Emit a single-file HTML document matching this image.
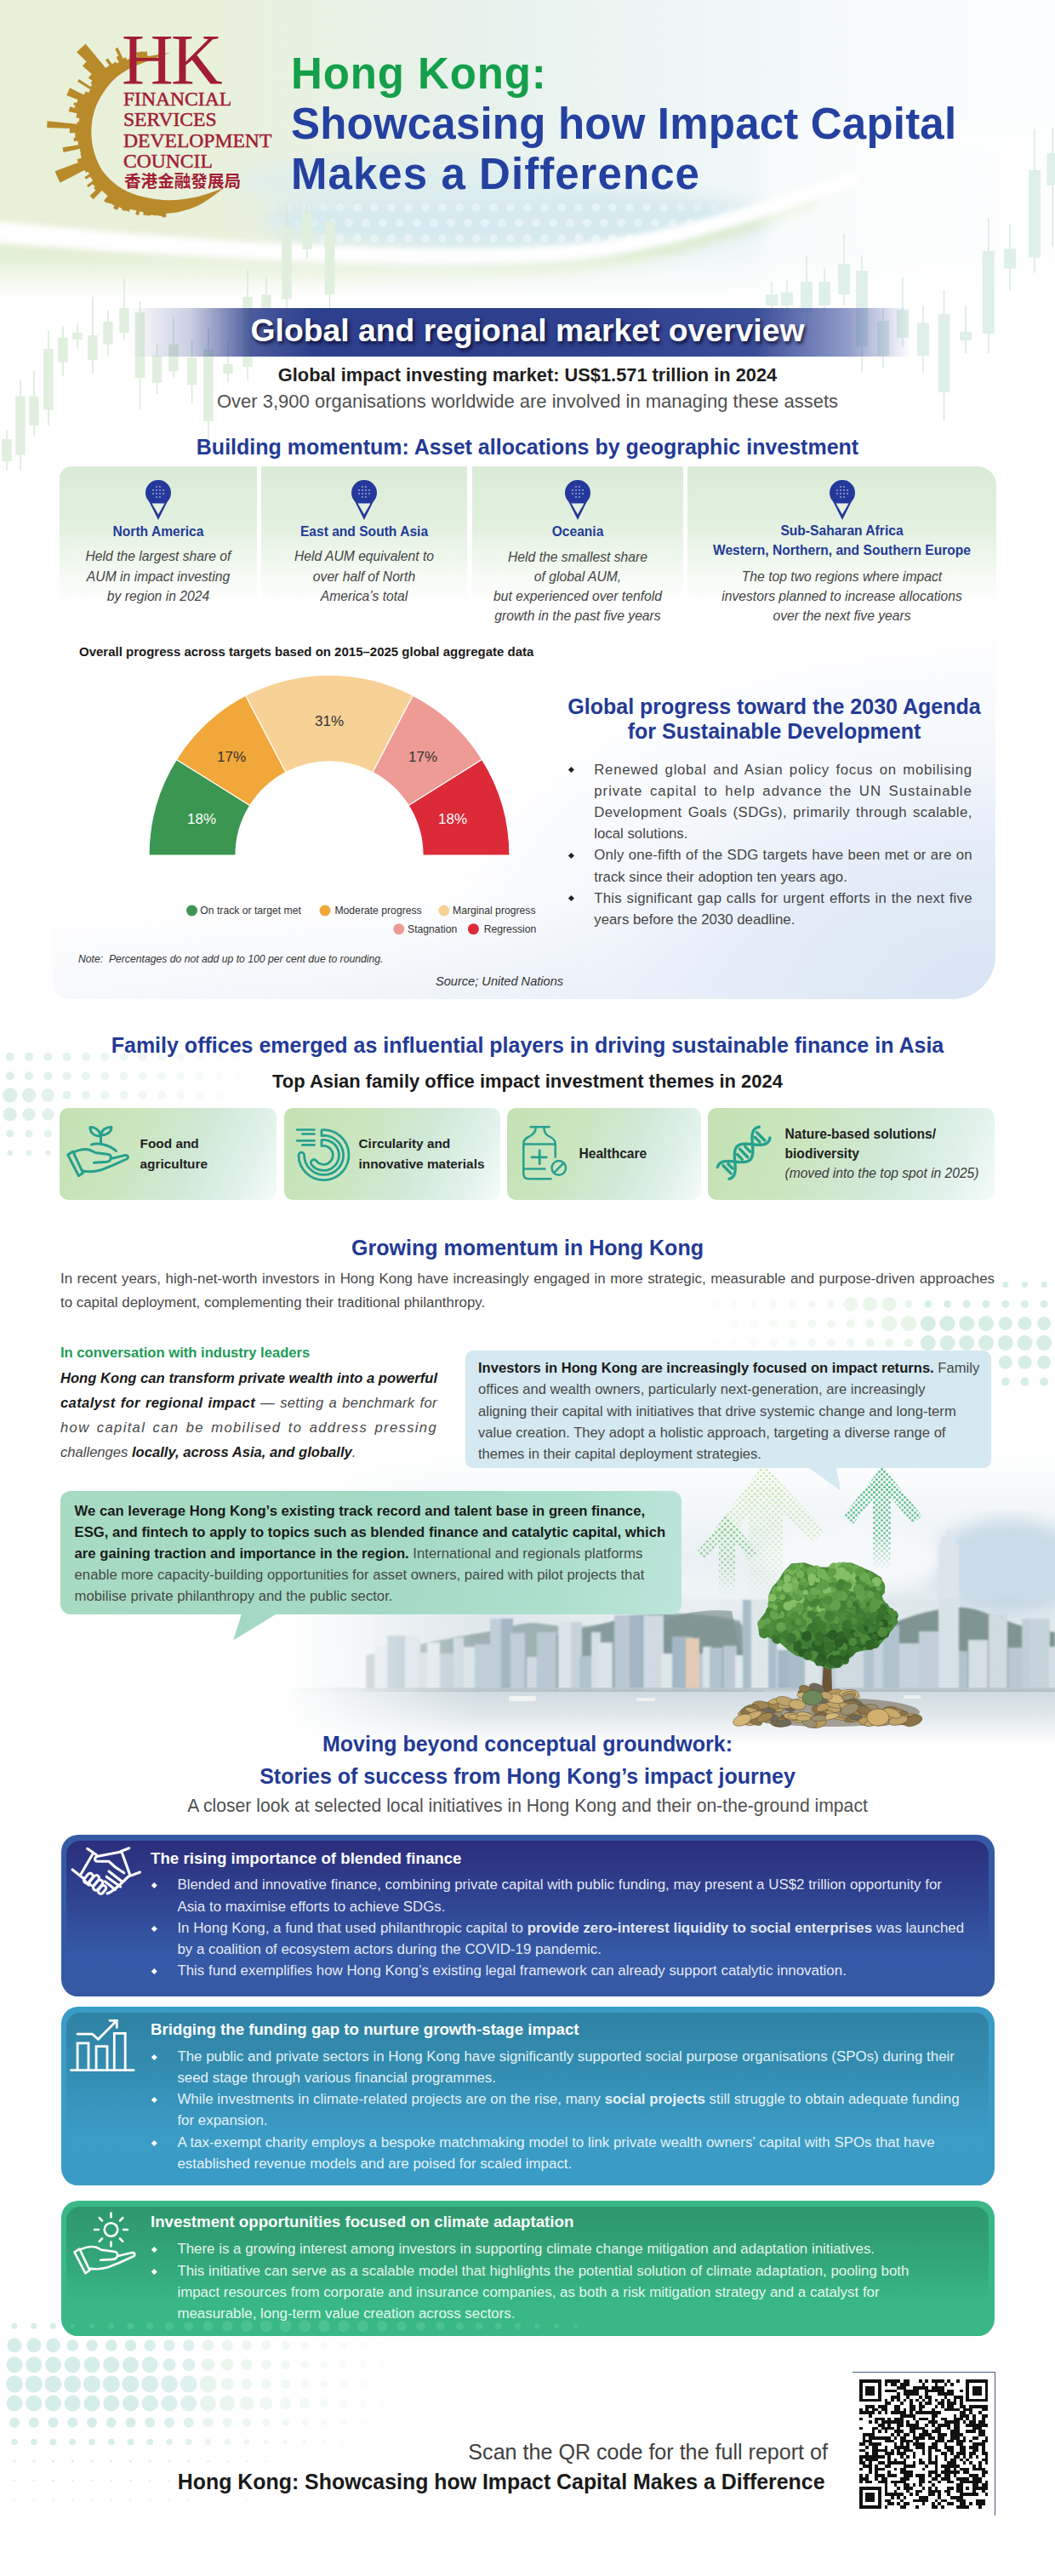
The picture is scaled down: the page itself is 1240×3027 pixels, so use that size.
<!DOCTYPE html>
<html lang="en">
<head>
<meta charset="utf-8">
<title>Hong Kong: Showcasing how Impact Capital Makes a Difference</title>
<style>
html,body{margin:0;padding:0;}
body{width:1240px;height:3027px;position:relative;overflow:hidden;background:#fff;font-family:"Liberation Sans",Arial,sans-serif;color:#222;}
.a{position:absolute;}
.c{text-align:center;white-space:nowrap;}
.nw{white-space:nowrap;}
.blue{color:#233a96;}
.b{font-weight:bold;}
.i{font-style:italic;}
/* header */
#title{left:342px;top:57px;font-size:51px;line-height:59px;font-weight:bold;color:#2441a0;letter-spacing:-0.3px;white-space:nowrap;}
#title .g{color:#14a04a;}
/* region cards */
.rc{top:548px;height:160px;background:linear-gradient(180deg,#d9ecd6 0%,#e3f1e0 45%,rgba(240,248,238,0.8) 75%,rgba(255,255,255,0) 100%);}
.rc .pin{position:absolute;top:16px;left:50%;margin-left:-16px;width:32px;height:48px;}
.rc .t{position:absolute;left:0;right:0;top:65.8px;font-size:15.6px;line-height:22.8px;font-weight:bold;color:#233a96;text-align:center;white-space:nowrap;}
.tc{top:1302px;height:107.5px;border-radius:10px;background:linear-gradient(115deg,#c3e1b3 0%,#cbe6c0 35%,#cfe9d6 60%,#e2f3ec 85%,#f4fbf8 100%);}
.card{border-radius:20px;overflow:hidden;}
.card .in{position:absolute;left:6px;top:7px;right:7px;bottom:-2px;border-radius:16px 16px 0 0;}
.ct{left:177px;font-size:18.7px;line-height:22px;font-weight:bold;color:#fff;white-space:nowrap;}
.cb{left:208.4px;font-size:16.9px;line-height:25.2px;color:rgba(255,255,255,0.9);white-space:nowrap;}
.cb .bl::before{left:-29.7px;top:11px;width:4.6px;height:4.6px;background:#fff;}
.bl{position:relative;}
.jl{display:block;text-align:justify;text-align-last:justify;}
.bl::before{content:"";position:absolute;left:-29.8px;top:10.2px;width:4.8px;height:4.8px;background:#222;transform:rotate(45deg);}
.rc .d{position:absolute;left:0;right:0;font-size:15.7px;line-height:23.4px;font-style:italic;color:#454545;text-align:center;white-space:nowrap;}
</style>
</head>
<body>

<!-- ===== HEADER BACKGROUND ===== -->
<svg class="a" style="left:0;top:0" width="1240" height="560" viewBox="0 0 1240 560">
  <defs>
    <linearGradient id="hbg" x1="0" y1="0" x2="1240" y2="0" gradientUnits="userSpaceOnUse">
      <stop offset="0" stop-color="#e8f0d7"/>
      <stop offset="0.22" stop-color="#e9f1dd"/>
      <stop offset="0.45" stop-color="#e8f2ec"/>
      <stop offset="0.65" stop-color="#eef6f6"/>
      <stop offset="0.85" stop-color="#f8fbfc"/>
      <stop offset="1" stop-color="#fcfdfe"/>
    </linearGradient>
    <linearGradient id="hfade" x1="0" y1="0" x2="0" y2="1">
      <stop offset="0" stop-color="#fff" stop-opacity="0"/>
      <stop offset="1" stop-color="#fff" stop-opacity="1"/>
    </linearGradient>
    <filter id="bl10"><feGaussianBlur stdDeviation="10"/></filter>
    <filter id="bl6"><feGaussianBlur stdDeviation="6"/></filter>
    <filter id="bl3"><feGaussianBlur stdDeviation="3"/></filter>
  </defs>
  <rect x="0" y="0" width="1240" height="352" fill="url(#hbg)"/>
  <ellipse cx="610" cy="258" rx="300" ry="36" fill="#d6eaef" filter="url(#bl10)"/>
  <ellipse cx="480" cy="215" rx="200" ry="30" fill="#dcedf0" opacity="0.7" filter="url(#bl10)"/>
  <circle cx="320" cy="244" r="5" fill="#fff" fill-opacity="0.07"/><circle cx="340" cy="244" r="5" fill="#fff" fill-opacity="0.14"/><circle cx="360" cy="244" r="5" fill="#fff" fill-opacity="0.21"/><circle cx="380" cy="244" r="5" fill="#fff" fill-opacity="0.28"/><circle cx="400" cy="244" r="5" fill="#fff" fill-opacity="0.35"/><circle cx="420" cy="244" r="5" fill="#fff" fill-opacity="0.42"/><circle cx="440" cy="244" r="5" fill="#fff" fill-opacity="0.42"/><circle cx="460" cy="244" r="5" fill="#fff" fill-opacity="0.42"/><circle cx="480" cy="244" r="5" fill="#fff" fill-opacity="0.42"/><circle cx="500" cy="244" r="5" fill="#fff" fill-opacity="0.42"/><circle cx="520" cy="244" r="5" fill="#fff" fill-opacity="0.42"/><circle cx="540" cy="244" r="5" fill="#fff" fill-opacity="0.42"/><circle cx="560" cy="244" r="5" fill="#fff" fill-opacity="0.42"/><circle cx="580" cy="244" r="5" fill="#fff" fill-opacity="0.42"/><circle cx="600" cy="244" r="5" fill="#fff" fill-opacity="0.42"/><circle cx="620" cy="244" r="5" fill="#fff" fill-opacity="0.42"/><circle cx="640" cy="244" r="5" fill="#fff" fill-opacity="0.42"/><circle cx="660" cy="244" r="5" fill="#fff" fill-opacity="0.42"/><circle cx="680" cy="244" r="5" fill="#fff" fill-opacity="0.42"/><circle cx="700" cy="244" r="5" fill="#fff" fill-opacity="0.42"/><circle cx="720" cy="244" r="5" fill="#fff" fill-opacity="0.42"/><circle cx="740" cy="244" r="5" fill="#fff" fill-opacity="0.42"/><circle cx="760" cy="244" r="5" fill="#fff" fill-opacity="0.42"/><circle cx="780" cy="244" r="5" fill="#fff" fill-opacity="0.42"/><circle cx="800" cy="244" r="5" fill="#fff" fill-opacity="0.35"/><circle cx="820" cy="244" r="5" fill="#fff" fill-opacity="0.28"/><circle cx="840" cy="244" r="5" fill="#fff" fill-opacity="0.21"/><circle cx="860" cy="244" r="5" fill="#fff" fill-opacity="0.14"/><circle cx="880" cy="244" r="5" fill="#fff" fill-opacity="0.07"/><circle cx="330" cy="262" r="5" fill="#fff" fill-opacity="0.10"/><circle cx="350" cy="262" r="5" fill="#fff" fill-opacity="0.17"/><circle cx="370" cy="262" r="5" fill="#fff" fill-opacity="0.24"/><circle cx="390" cy="262" r="5" fill="#fff" fill-opacity="0.32"/><circle cx="410" cy="262" r="5" fill="#fff" fill-opacity="0.39"/><circle cx="430" cy="262" r="5" fill="#fff" fill-opacity="0.42"/><circle cx="450" cy="262" r="5" fill="#fff" fill-opacity="0.42"/><circle cx="470" cy="262" r="5" fill="#fff" fill-opacity="0.42"/><circle cx="490" cy="262" r="5" fill="#fff" fill-opacity="0.42"/><circle cx="510" cy="262" r="5" fill="#fff" fill-opacity="0.42"/><circle cx="530" cy="262" r="5" fill="#fff" fill-opacity="0.42"/><circle cx="550" cy="262" r="5" fill="#fff" fill-opacity="0.42"/><circle cx="570" cy="262" r="5" fill="#fff" fill-opacity="0.42"/><circle cx="590" cy="262" r="5" fill="#fff" fill-opacity="0.42"/><circle cx="610" cy="262" r="5" fill="#fff" fill-opacity="0.42"/><circle cx="630" cy="262" r="5" fill="#fff" fill-opacity="0.42"/><circle cx="650" cy="262" r="5" fill="#fff" fill-opacity="0.42"/><circle cx="670" cy="262" r="5" fill="#fff" fill-opacity="0.42"/><circle cx="690" cy="262" r="5" fill="#fff" fill-opacity="0.42"/><circle cx="710" cy="262" r="5" fill="#fff" fill-opacity="0.42"/><circle cx="730" cy="262" r="5" fill="#fff" fill-opacity="0.42"/><circle cx="750" cy="262" r="5" fill="#fff" fill-opacity="0.42"/><circle cx="770" cy="262" r="5" fill="#fff" fill-opacity="0.42"/><circle cx="790" cy="262" r="5" fill="#fff" fill-opacity="0.39"/><circle cx="810" cy="262" r="5" fill="#fff" fill-opacity="0.32"/><circle cx="830" cy="262" r="5" fill="#fff" fill-opacity="0.24"/><circle cx="850" cy="262" r="5" fill="#fff" fill-opacity="0.17"/><circle cx="870" cy="262" r="5" fill="#fff" fill-opacity="0.10"/><circle cx="320" cy="280" r="5" fill="#fff" fill-opacity="0.07"/><circle cx="340" cy="280" r="5" fill="#fff" fill-opacity="0.14"/><circle cx="360" cy="280" r="5" fill="#fff" fill-opacity="0.21"/><circle cx="380" cy="280" r="5" fill="#fff" fill-opacity="0.28"/><circle cx="400" cy="280" r="5" fill="#fff" fill-opacity="0.35"/><circle cx="420" cy="280" r="5" fill="#fff" fill-opacity="0.42"/><circle cx="440" cy="280" r="5" fill="#fff" fill-opacity="0.42"/><circle cx="460" cy="280" r="5" fill="#fff" fill-opacity="0.42"/><circle cx="480" cy="280" r="5" fill="#fff" fill-opacity="0.42"/><circle cx="500" cy="280" r="5" fill="#fff" fill-opacity="0.42"/><circle cx="520" cy="280" r="5" fill="#fff" fill-opacity="0.42"/><circle cx="540" cy="280" r="5" fill="#fff" fill-opacity="0.42"/><circle cx="560" cy="280" r="5" fill="#fff" fill-opacity="0.42"/><circle cx="580" cy="280" r="5" fill="#fff" fill-opacity="0.42"/><circle cx="600" cy="280" r="5" fill="#fff" fill-opacity="0.42"/><circle cx="620" cy="280" r="5" fill="#fff" fill-opacity="0.42"/><circle cx="640" cy="280" r="5" fill="#fff" fill-opacity="0.42"/><circle cx="660" cy="280" r="5" fill="#fff" fill-opacity="0.42"/><circle cx="680" cy="280" r="5" fill="#fff" fill-opacity="0.42"/><circle cx="700" cy="280" r="5" fill="#fff" fill-opacity="0.42"/><circle cx="720" cy="280" r="5" fill="#fff" fill-opacity="0.42"/><circle cx="740" cy="280" r="5" fill="#fff" fill-opacity="0.42"/><circle cx="760" cy="280" r="5" fill="#fff" fill-opacity="0.42"/><circle cx="780" cy="280" r="5" fill="#fff" fill-opacity="0.42"/><circle cx="800" cy="280" r="5" fill="#fff" fill-opacity="0.35"/><circle cx="820" cy="280" r="5" fill="#fff" fill-opacity="0.28"/><circle cx="840" cy="280" r="5" fill="#fff" fill-opacity="0.21"/><circle cx="860" cy="280" r="5" fill="#fff" fill-opacity="0.14"/><circle cx="880" cy="280" r="5" fill="#fff" fill-opacity="0.07"/>
  <path d="M-40 286 C 200 310, 450 320, 640 308 C 760 299, 860 262, 960 228 L 960 244 C 860 279, 760 316, 640 326 C 450 336, 200 334, -40 326 Z" fill="#dfeed0" filter="url(#bl6)"/>
  <path d="M-40 256 C 200 282, 450 298, 640 290 C 760 284, 880 243, 1010 200 L 1010 216 C 880 262, 760 302, 640 307 C 450 315, 200 302, -40 282 Z" fill="#fff" filter="url(#bl3)"/>
  <rect x="0" y="296" width="1240" height="56" fill="url(#hfade)"/>
  <rect x="0" y="350" width="1240" height="210" fill="#fff"/>
  <rect x="900" y="150" width="340" height="200" fill="#fff" opacity="0.5" filter="url(#bl10)"/>
</svg>

<!-- DECO -->
<svg class="a" style="left:0;top:0" width="1240" height="560" viewBox="0 0 1240 560"><rect x="7.3" y="505" width="1.4" height="48.0" fill="#d6e9d4"/><rect x="2.2" y="516" width="11.5" height="26.0" fill="#e1f0de"/><rect x="23.3" y="447" width="1.4" height="106.0" fill="#d6e9d4"/><rect x="18.2" y="465.6" width="11.5" height="69.0" fill="#e1f0de"/><rect x="39.3" y="436" width="1.4" height="77.0" fill="#d6e9d4"/><rect x="34.2" y="465.6" width="11.5" height="34.4" fill="#e1f0de"/><rect x="56.3" y="388.6" width="1.4" height="111.4" fill="#d6e9d4"/><rect x="51.2" y="410" width="11.5" height="71.5" fill="#e1f0de"/><rect x="73.3" y="383" width="1.4" height="58.7" fill="#d6e9d4"/><rect x="68.2" y="396.6" width="11.5" height="29.2" fill="#e1f0de"/><rect x="90.3" y="380.7" width="1.4" height="29.3" fill="#d6e9d4"/><rect x="85.2" y="391" width="11.5" height="8.0" fill="#e1f0de"/><rect x="108.3" y="348.8" width="1.4" height="90.2" fill="#d6e9d4"/><rect x="103.2" y="394" width="11.5" height="29.0" fill="#e1f0de"/><rect x="126.3" y="364.7" width="1.4" height="53.1" fill="#d6e9d4"/><rect x="121.2" y="378" width="11.5" height="26.5" fill="#e1f0de"/><rect x="145.3" y="327.6" width="1.4" height="71.4" fill="#d6e9d4"/><rect x="140.2" y="362" width="11.5" height="29.0" fill="#e1f0de"/><rect x="163.8" y="354" width="1.4" height="127.5" fill="#d6e9d4"/><rect x="158.8" y="367" width="11.5" height="77.0" fill="#e1f0de"/><rect x="184.0" y="404.5" width="1.4" height="58.5" fill="#d6e9d4"/><rect x="178.9" y="417.8" width="11.5" height="31.9" fill="#e1f0de"/><rect x="203.3" y="372.7" width="1.4" height="71.3" fill="#d6e9d4"/><rect x="198.2" y="404.5" width="11.5" height="31.9" fill="#e1f0de"/><rect x="224.9" y="399" width="1.4" height="74.5" fill="#d6e9d4"/><rect x="219.8" y="420.5" width="11.5" height="31.8" fill="#e1f0de"/><rect x="244.3" y="386" width="1.4" height="130.0" fill="#d6e9d4"/><rect x="239.2" y="410" width="11.5" height="84.8" fill="#e1f0de"/><rect x="267.3" y="402" width="1.4" height="47.7" fill="#d6e9d4"/><rect x="262.2" y="428" width="11.5" height="11.0" fill="#e1f0de"/><rect x="290.3" y="317" width="1.4" height="130.0" fill="#d6e9d4"/><rect x="285.2" y="348.8" width="11.5" height="82.2" fill="#e1f0de"/><rect x="312.3" y="325" width="1.4" height="45.0" fill="#d6e9d4"/><rect x="307.2" y="346" width="11.5" height="18.7" fill="#e1f0de"/><rect x="336.3" y="240" width="1.4" height="122.0" fill="#d6e9d4"/><rect x="331.2" y="266.5" width="11.5" height="85.0" fill="#e1f0de"/><rect x="360.3" y="240" width="1.4" height="63.7" fill="#d6e9d4"/><rect x="355.2" y="250.6" width="11.5" height="42.4" fill="#e1f0de"/><rect x="386.8" y="250.6" width="1.4" height="111.4" fill="#d6e9d4"/><rect x="381.8" y="261" width="11.5" height="85.0" fill="#e1f0de"/><rect x="906.3" y="331" width="1.4" height="36.0" fill="#d3e8e2"/><rect x="900.0" y="346" width="14" height="13.0" fill="#dff0ea"/><rect x="924.3" y="330" width="1.4" height="40.0" fill="#d3e8e2"/><rect x="918.0" y="343.6" width="14" height="15.4" fill="#dff0ea"/><rect x="947.3" y="300" width="1.4" height="87.0" fill="#d3e8e2"/><rect x="941.0" y="331" width="14" height="36.0" fill="#dff0ea"/><rect x="968.3" y="315" width="1.4" height="52.0" fill="#d3e8e2"/><rect x="962.0" y="331" width="14" height="28.0" fill="#dff0ea"/><rect x="991.3" y="274.5" width="1.4" height="84.5" fill="#d3e8e2"/><rect x="985.0" y="310" width="14" height="36.0" fill="#dff0ea"/><rect x="1012.3" y="300" width="1.4" height="138.0" fill="#d3e8e2"/><rect x="1006.0" y="318" width="14" height="89.6" fill="#dff0ea"/><rect x="1037.3" y="361.5" width="1.4" height="71.5" fill="#d3e8e2"/><rect x="1031.0" y="377" width="14" height="41.0" fill="#dff0ea"/><rect x="1060.3" y="325.7" width="1.4" height="81.9" fill="#d3e8e2"/><rect x="1054.0" y="364" width="14" height="33.0" fill="#dff0ea"/><rect x="1084.3" y="359" width="1.4" height="79.0" fill="#d3e8e2"/><rect x="1078.0" y="379.4" width="14" height="38.6" fill="#dff0ea"/><rect x="1108.8" y="341" width="1.4" height="153.6" fill="#d3e8e2"/><rect x="1102.5" y="369" width="14" height="92.0" fill="#dff0ea"/><rect x="1134.3" y="359" width="1.4" height="56.0" fill="#d3e8e2"/><rect x="1128.0" y="389.7" width="14" height="10.3" fill="#dff0ea"/><rect x="1161.0" y="256.6" width="1.4" height="158.4" fill="#d3e8e2"/><rect x="1154.7" y="295" width="14" height="97.0" fill="#dff0ea"/><rect x="1186.3" y="264" width="1.4" height="77.0" fill="#d3e8e2"/><rect x="1180.0" y="292.4" width="14" height="23.1" fill="#dff0ea"/><rect x="1215.3" y="151.7" width="1.4" height="168.9" fill="#d3e8e2"/><rect x="1209.0" y="200" width="14" height="102.7" fill="#dff0ea"/><rect x="1236.7" y="150" width="1.4" height="140.0" fill="#d3e8e2"/><rect x="1230.4" y="180" width="14" height="38.0" fill="#dff0ea"/></svg>
<svg class="a" style="left:0;top:0" width="1240" height="3027" viewBox="0 0 1240 3027"><circle cx="11.7" cy="1241.7" r="5.0" fill="#d8ece6" fill-opacity="0.85"/><circle cx="34.0" cy="1241.7" r="5.0" fill="#d8ece6" fill-opacity="0.78"/><circle cx="56.3" cy="1241.7" r="5.0" fill="#d8ece6" fill-opacity="0.72"/><circle cx="78.6" cy="1241.7" r="5.0" fill="#d8ece6" fill-opacity="0.66"/><circle cx="100.9" cy="1241.7" r="5.0" fill="#d8ece6" fill-opacity="0.59"/><circle cx="123.2" cy="1241.7" r="5.0" fill="#d8ece6" fill-opacity="0.52"/><circle cx="145.5" cy="1241.7" r="5.0" fill="#d8ece6" fill-opacity="0.46"/><circle cx="167.8" cy="1241.7" r="5.0" fill="#d8ece6" fill-opacity="0.39"/><circle cx="190.1" cy="1241.7" r="5.0" fill="#d8ece6" fill-opacity="0.33"/><circle cx="212.4" cy="1241.7" r="5.0" fill="#d8ece6" fill-opacity="0.27"/><circle cx="234.7" cy="1241.7" r="5.0" fill="#d8ece6" fill-opacity="0.20"/><circle cx="257.0" cy="1241.7" r="5.0" fill="#d8ece6" fill-opacity="0.13"/><circle cx="279.3" cy="1241.7" r="5.0" fill="#d8ece6" fill-opacity="0.07"/><circle cx="11.7" cy="1264.3" r="5.0" fill="#d8ece6" fill-opacity="0.85"/><circle cx="34.0" cy="1264.3" r="5.0" fill="#d8ece6" fill-opacity="0.78"/><circle cx="56.3" cy="1264.3" r="5.0" fill="#d8ece6" fill-opacity="0.72"/><circle cx="78.6" cy="1264.3" r="5.0" fill="#d8ece6" fill-opacity="0.66"/><circle cx="100.9" cy="1264.3" r="5.0" fill="#d8ece6" fill-opacity="0.59"/><circle cx="123.2" cy="1264.3" r="5.0" fill="#d8ece6" fill-opacity="0.52"/><circle cx="145.5" cy="1264.3" r="5.0" fill="#d8ece6" fill-opacity="0.46"/><circle cx="167.8" cy="1264.3" r="5.0" fill="#d8ece6" fill-opacity="0.39"/><circle cx="190.1" cy="1264.3" r="5.0" fill="#d8ece6" fill-opacity="0.33"/><circle cx="212.4" cy="1264.3" r="5.0" fill="#d8ece6" fill-opacity="0.27"/><circle cx="234.7" cy="1264.3" r="5.0" fill="#d8ece6" fill-opacity="0.20"/><circle cx="257.0" cy="1264.3" r="5.0" fill="#d8ece6" fill-opacity="0.13"/><circle cx="279.3" cy="1264.3" r="5.0" fill="#d8ece6" fill-opacity="0.07"/><circle cx="11.7" cy="1286.9" r="8.7" fill="#d8ece6" fill-opacity="0.85"/><circle cx="34.0" cy="1286.9" r="8.3" fill="#d8ece6" fill-opacity="0.78"/><circle cx="56.3" cy="1286.9" r="7.8" fill="#d8ece6" fill-opacity="0.72"/><circle cx="78.6" cy="1286.9" r="5.0" fill="#d8ece6" fill-opacity="0.66"/><circle cx="100.9" cy="1286.9" r="5.0" fill="#d8ece6" fill-opacity="0.59"/><circle cx="123.2" cy="1286.9" r="5.0" fill="#d8ece6" fill-opacity="0.52"/><circle cx="145.5" cy="1286.9" r="5.0" fill="#d8ece6" fill-opacity="0.46"/><circle cx="167.8" cy="1286.9" r="5.0" fill="#d8ece6" fill-opacity="0.39"/><circle cx="190.1" cy="1286.9" r="5.0" fill="#d8ece6" fill-opacity="0.33"/><circle cx="212.4" cy="1286.9" r="4.8" fill="#d8ece6" fill-opacity="0.27"/><circle cx="234.7" cy="1286.9" r="4.3" fill="#d8ece6" fill-opacity="0.20"/><circle cx="257.0" cy="1286.9" r="3.9" fill="#d8ece6" fill-opacity="0.13"/><circle cx="279.3" cy="1286.9" r="3.5" fill="#d8ece6" fill-opacity="0.07"/><circle cx="11.7" cy="1309.5" r="8.0" fill="#d8ece6" fill-opacity="0.85"/><circle cx="34.0" cy="1309.5" r="7.6" fill="#d8ece6" fill-opacity="0.78"/><circle cx="56.3" cy="1309.5" r="7.2" fill="#d8ece6" fill-opacity="0.72"/><circle cx="78.6" cy="1309.5" r="5.0" fill="#d8ece6" fill-opacity="0.66"/><circle cx="100.9" cy="1309.5" r="5.0" fill="#d8ece6" fill-opacity="0.59"/><circle cx="123.2" cy="1309.5" r="5.0" fill="#d8ece6" fill-opacity="0.52"/><circle cx="145.5" cy="1309.5" r="5.0" fill="#d8ece6" fill-opacity="0.46"/><circle cx="167.8" cy="1309.5" r="5.0" fill="#d8ece6" fill-opacity="0.39"/><circle cx="190.1" cy="1309.5" r="4.8" fill="#d8ece6" fill-opacity="0.33"/><circle cx="212.4" cy="1309.5" r="4.4" fill="#d8ece6" fill-opacity="0.27"/><circle cx="234.7" cy="1309.5" r="4.0" fill="#d8ece6" fill-opacity="0.20"/><circle cx="257.0" cy="1309.5" r="3.6" fill="#d8ece6" fill-opacity="0.13"/><circle cx="279.3" cy="1309.5" r="3.2" fill="#d8ece6" fill-opacity="0.07"/><circle cx="11.7" cy="1332.1" r="4.5" fill="#d8ece6" fill-opacity="0.85"/><circle cx="34.0" cy="1332.1" r="4.5" fill="#d8ece6" fill-opacity="0.78"/><circle cx="56.3" cy="1332.1" r="4.5" fill="#d8ece6" fill-opacity="0.72"/><circle cx="78.6" cy="1332.1" r="4.5" fill="#d8ece6" fill-opacity="0.66"/><circle cx="100.9" cy="1332.1" r="4.5" fill="#d8ece6" fill-opacity="0.59"/><circle cx="123.2" cy="1332.1" r="4.5" fill="#d8ece6" fill-opacity="0.52"/><circle cx="145.5" cy="1332.1" r="4.5" fill="#d8ece6" fill-opacity="0.46"/><circle cx="167.8" cy="1332.1" r="4.5" fill="#d8ece6" fill-opacity="0.39"/><circle cx="190.1" cy="1332.1" r="4.5" fill="#d8ece6" fill-opacity="0.33"/><circle cx="212.4" cy="1332.1" r="4.5" fill="#d8ece6" fill-opacity="0.27"/><circle cx="234.7" cy="1332.1" r="4.5" fill="#d8ece6" fill-opacity="0.20"/><circle cx="257.0" cy="1332.1" r="4.5" fill="#d8ece6" fill-opacity="0.13"/><circle cx="279.3" cy="1332.1" r="4.5" fill="#d8ece6" fill-opacity="0.07"/><circle cx="11.7" cy="1354.7" r="3.2" fill="#d8ece6" fill-opacity="0.85"/><circle cx="34.0" cy="1354.7" r="3.2" fill="#d8ece6" fill-opacity="0.78"/><circle cx="56.3" cy="1354.7" r="3.2" fill="#d8ece6" fill-opacity="0.72"/><circle cx="78.6" cy="1354.7" r="3.2" fill="#d8ece6" fill-opacity="0.66"/><circle cx="100.9" cy="1354.7" r="3.2" fill="#d8ece6" fill-opacity="0.59"/><circle cx="123.2" cy="1354.7" r="3.2" fill="#d8ece6" fill-opacity="0.52"/><circle cx="145.5" cy="1354.7" r="3.2" fill="#d8ece6" fill-opacity="0.46"/><circle cx="167.8" cy="1354.7" r="3.2" fill="#d8ece6" fill-opacity="0.39"/><circle cx="190.1" cy="1354.7" r="3.2" fill="#d8ece6" fill-opacity="0.33"/><circle cx="212.4" cy="1354.7" r="3.2" fill="#d8ece6" fill-opacity="0.27"/><circle cx="234.7" cy="1354.7" r="3.2" fill="#d8ece6" fill-opacity="0.20"/><circle cx="257.0" cy="1354.7" r="3.2" fill="#d8ece6" fill-opacity="0.13"/><circle cx="279.3" cy="1354.7" r="3.2" fill="#d8ece6" fill-opacity="0.07"/><circle cx="1181.8" cy="1509.6" r="3.5" fill="#d5ede3" fill-opacity="0.95"/><circle cx="1204.5" cy="1509.6" r="3.5" fill="#d5ede3" fill-opacity="0.95"/><circle cx="1227.2" cy="1509.6" r="3.5" fill="#d5ede3" fill-opacity="0.95"/><circle cx="840.5" cy="1532.4" r="4.5" fill="#e2f2e2" fill-opacity="0.10"/><circle cx="863.2" cy="1532.4" r="4.5" fill="#e2f2e2" fill-opacity="0.15"/><circle cx="886.0" cy="1532.4" r="4.5" fill="#e2f2e2" fill-opacity="0.22"/><circle cx="908.8" cy="1532.4" r="4.5" fill="#e2f2e2" fill-opacity="0.30"/><circle cx="931.5" cy="1532.4" r="4.5" fill="#e2f2e2" fill-opacity="0.38"/><circle cx="954.2" cy="1532.4" r="4.5" fill="#e2f2e2" fill-opacity="0.45"/><circle cx="977.0" cy="1532.4" r="4.5" fill="#e2f2e2" fill-opacity="0.53"/><circle cx="999.8" cy="1532.4" r="8.5" fill="#e2f2e2" fill-opacity="0.61"/><circle cx="1022.5" cy="1532.4" r="8.5" fill="#e2f2e2" fill-opacity="0.69"/><circle cx="1045.2" cy="1532.4" r="8.5" fill="#e2f2e2" fill-opacity="0.76"/><circle cx="1068.0" cy="1532.4" r="4.5" fill="#e2f2e2" fill-opacity="0.84"/><circle cx="1090.8" cy="1532.4" r="4.5" fill="#d5ede3" fill-opacity="0.92"/><circle cx="1113.5" cy="1532.4" r="4.5" fill="#d5ede3" fill-opacity="0.95"/><circle cx="1136.2" cy="1532.4" r="4.5" fill="#d5ede3" fill-opacity="0.95"/><circle cx="1159.0" cy="1532.4" r="4.5" fill="#d5ede3" fill-opacity="0.95"/><circle cx="1181.8" cy="1532.4" r="4.5" fill="#d5ede3" fill-opacity="0.95"/><circle cx="1204.5" cy="1532.4" r="4.5" fill="#d5ede3" fill-opacity="0.95"/><circle cx="1227.2" cy="1532.4" r="4.5" fill="#d5ede3" fill-opacity="0.95"/><circle cx="840.5" cy="1555.2" r="5.0" fill="#e2f2e2" fill-opacity="0.10"/><circle cx="863.2" cy="1555.2" r="5.0" fill="#e2f2e2" fill-opacity="0.15"/><circle cx="886.0" cy="1555.2" r="5.0" fill="#e2f2e2" fill-opacity="0.22"/><circle cx="908.8" cy="1555.2" r="5.0" fill="#e2f2e2" fill-opacity="0.30"/><circle cx="931.5" cy="1555.2" r="5.0" fill="#e2f2e2" fill-opacity="0.38"/><circle cx="954.2" cy="1555.2" r="5.0" fill="#e2f2e2" fill-opacity="0.45"/><circle cx="977.0" cy="1555.2" r="5.0" fill="#e2f2e2" fill-opacity="0.53"/><circle cx="999.8" cy="1555.2" r="5.0" fill="#e2f2e2" fill-opacity="0.61"/><circle cx="1022.5" cy="1555.2" r="5.0" fill="#e2f2e2" fill-opacity="0.69"/><circle cx="1045.2" cy="1555.2" r="9.0" fill="#e2f2e2" fill-opacity="0.76"/><circle cx="1068.0" cy="1555.2" r="9.0" fill="#e2f2e2" fill-opacity="0.84"/><circle cx="1090.8" cy="1555.2" r="9.0" fill="#d5ede3" fill-opacity="0.92"/><circle cx="1113.5" cy="1555.2" r="9.0" fill="#d5ede3" fill-opacity="0.95"/><circle cx="1136.2" cy="1555.2" r="9.0" fill="#d5ede3" fill-opacity="0.95"/><circle cx="1159.0" cy="1555.2" r="9.0" fill="#d5ede3" fill-opacity="0.95"/><circle cx="1181.8" cy="1555.2" r="8.0" fill="#d5ede3" fill-opacity="0.95"/><circle cx="1204.5" cy="1555.2" r="8.0" fill="#d5ede3" fill-opacity="0.95"/><circle cx="1227.2" cy="1555.2" r="8.0" fill="#d5ede3" fill-opacity="0.95"/><circle cx="840.5" cy="1578.0" r="5.0" fill="#e2f2e2" fill-opacity="0.10"/><circle cx="863.2" cy="1578.0" r="5.0" fill="#e2f2e2" fill-opacity="0.15"/><circle cx="886.0" cy="1578.0" r="5.0" fill="#e2f2e2" fill-opacity="0.22"/><circle cx="908.8" cy="1578.0" r="5.0" fill="#e2f2e2" fill-opacity="0.30"/><circle cx="931.5" cy="1578.0" r="5.0" fill="#e2f2e2" fill-opacity="0.38"/><circle cx="954.2" cy="1578.0" r="5.0" fill="#e2f2e2" fill-opacity="0.45"/><circle cx="977.0" cy="1578.0" r="5.0" fill="#e2f2e2" fill-opacity="0.53"/><circle cx="999.8" cy="1578.0" r="5.0" fill="#e2f2e2" fill-opacity="0.61"/><circle cx="1022.5" cy="1578.0" r="5.0" fill="#e2f2e2" fill-opacity="0.69"/><circle cx="1045.2" cy="1578.0" r="5.0" fill="#e2f2e2" fill-opacity="0.76"/><circle cx="1068.0" cy="1578.0" r="5.0" fill="#e2f2e2" fill-opacity="0.84"/><circle cx="1090.8" cy="1578.0" r="9.0" fill="#d5ede3" fill-opacity="0.92"/><circle cx="1113.5" cy="1578.0" r="9.0" fill="#d5ede3" fill-opacity="0.95"/><circle cx="1136.2" cy="1578.0" r="9.0" fill="#d5ede3" fill-opacity="0.95"/><circle cx="1159.0" cy="1578.0" r="9.0" fill="#d5ede3" fill-opacity="0.95"/><circle cx="1181.8" cy="1578.0" r="9.0" fill="#d5ede3" fill-opacity="0.95"/><circle cx="1204.5" cy="1578.0" r="9.0" fill="#d5ede3" fill-opacity="0.95"/><circle cx="1227.2" cy="1578.0" r="9.0" fill="#d5ede3" fill-opacity="0.95"/><circle cx="1181.8" cy="1600.8" r="8.0" fill="#d5ede3" fill-opacity="0.95"/><circle cx="1204.5" cy="1600.8" r="8.0" fill="#d5ede3" fill-opacity="0.95"/><circle cx="1227.2" cy="1600.8" r="8.0" fill="#d5ede3" fill-opacity="0.95"/><circle cx="1181.8" cy="1623.6" r="5.0" fill="#d5ede3" fill-opacity="0.95"/><circle cx="1204.5" cy="1623.6" r="5.0" fill="#d5ede3" fill-opacity="0.95"/><circle cx="1227.2" cy="1623.6" r="5.0" fill="#d5ede3" fill-opacity="0.95"/><circle cx="17.0" cy="2733.3" r="3.5" fill="#d6eeea" fill-opacity="1.00"/><circle cx="39.8" cy="2733.3" r="3.5" fill="#d6eeea" fill-opacity="1.00"/><circle cx="62.5" cy="2733.3" r="3.5" fill="#d6eeea" fill-opacity="1.00"/><circle cx="85.2" cy="2733.3" r="3.5" fill="#d6eeea" fill-opacity="1.00"/><circle cx="108.0" cy="2733.3" r="3.5" fill="#d6eeea" fill-opacity="1.00"/><circle cx="130.8" cy="2733.3" r="3.5" fill="#d6eeea" fill-opacity="1.00"/><circle cx="153.5" cy="2733.3" r="3.5" fill="#d6eeea" fill-opacity="1.00"/><circle cx="176.2" cy="2733.3" r="3.5" fill="#d6eeea" fill-opacity="0.95"/><circle cx="199.0" cy="2733.3" r="3.5" fill="#d6eeea" fill-opacity="0.88"/><circle cx="221.8" cy="2733.3" r="3.5" fill="#d6eeea" fill-opacity="0.81"/><circle cx="244.5" cy="2733.3" r="3.5" fill="#e0f1e6" fill-opacity="0.74"/><circle cx="267.2" cy="2733.3" r="3.3" fill="#e0f1e6" fill-opacity="0.66"/><circle cx="290.0" cy="2733.3" r="3.0" fill="#e0f1e6" fill-opacity="0.59"/><circle cx="312.8" cy="2733.3" r="2.8" fill="#e0f1e6" fill-opacity="0.52"/><circle cx="335.5" cy="2733.3" r="2.5" fill="#e0f1e6" fill-opacity="0.45"/><circle cx="358.2" cy="2733.3" r="2.2" fill="#e0f1e6" fill-opacity="0.38"/><circle cx="381.0" cy="2733.3" r="2.0" fill="#e0f1e6" fill-opacity="0.31"/><circle cx="403.8" cy="2733.3" r="1.9" fill="#e0f1e6" fill-opacity="0.24"/><circle cx="426.5" cy="2733.3" r="1.9" fill="#e0f1e6" fill-opacity="0.17"/><circle cx="449.2" cy="2733.3" r="1.9" fill="#e0f1e6" fill-opacity="0.10"/><circle cx="17.0" cy="2756.0" r="8.5" fill="#d6eeea" fill-opacity="1.00"/><circle cx="39.8" cy="2756.0" r="8.5" fill="#d6eeea" fill-opacity="1.00"/><circle cx="62.5" cy="2756.0" r="8.5" fill="#d6eeea" fill-opacity="1.00"/><circle cx="85.2" cy="2756.0" r="6.8" fill="#d6eeea" fill-opacity="1.00"/><circle cx="108.0" cy="2756.0" r="6.8" fill="#d6eeea" fill-opacity="1.00"/><circle cx="130.8" cy="2756.0" r="6.8" fill="#d6eeea" fill-opacity="1.00"/><circle cx="153.5" cy="2756.0" r="6.8" fill="#d6eeea" fill-opacity="1.00"/><circle cx="176.2" cy="2756.0" r="6.8" fill="#d6eeea" fill-opacity="0.95"/><circle cx="199.0" cy="2756.0" r="6.8" fill="#d6eeea" fill-opacity="0.88"/><circle cx="221.8" cy="2756.0" r="6.8" fill="#d6eeea" fill-opacity="0.81"/><circle cx="244.5" cy="2756.0" r="6.8" fill="#e0f1e6" fill-opacity="0.74"/><circle cx="267.2" cy="2756.0" r="6.4" fill="#e0f1e6" fill-opacity="0.66"/><circle cx="290.0" cy="2756.0" r="5.9" fill="#e0f1e6" fill-opacity="0.59"/><circle cx="312.8" cy="2756.0" r="5.4" fill="#e0f1e6" fill-opacity="0.52"/><circle cx="335.5" cy="2756.0" r="4.9" fill="#e0f1e6" fill-opacity="0.45"/><circle cx="358.2" cy="2756.0" r="4.3" fill="#e0f1e6" fill-opacity="0.38"/><circle cx="381.0" cy="2756.0" r="3.8" fill="#e0f1e6" fill-opacity="0.31"/><circle cx="403.8" cy="2756.0" r="3.7" fill="#e0f1e6" fill-opacity="0.24"/><circle cx="426.5" cy="2756.0" r="3.7" fill="#e0f1e6" fill-opacity="0.17"/><circle cx="449.2" cy="2756.0" r="3.7" fill="#e0f1e6" fill-opacity="0.10"/><circle cx="17.0" cy="2778.7" r="9.5" fill="#d6eeea" fill-opacity="1.00"/><circle cx="39.8" cy="2778.7" r="9.5" fill="#d6eeea" fill-opacity="1.00"/><circle cx="62.5" cy="2778.7" r="9.5" fill="#d6eeea" fill-opacity="1.00"/><circle cx="85.2" cy="2778.7" r="9.5" fill="#d6eeea" fill-opacity="1.00"/><circle cx="108.0" cy="2778.7" r="9.5" fill="#d6eeea" fill-opacity="1.00"/><circle cx="130.8" cy="2778.7" r="9.5" fill="#d6eeea" fill-opacity="1.00"/><circle cx="153.5" cy="2778.7" r="9.5" fill="#d6eeea" fill-opacity="1.00"/><circle cx="176.2" cy="2778.7" r="9.5" fill="#d6eeea" fill-opacity="0.95"/><circle cx="199.0" cy="2778.7" r="7.5" fill="#d6eeea" fill-opacity="0.88"/><circle cx="221.8" cy="2778.7" r="7.5" fill="#d6eeea" fill-opacity="0.81"/><circle cx="244.5" cy="2778.7" r="7.5" fill="#e0f1e6" fill-opacity="0.74"/><circle cx="267.2" cy="2778.7" r="7.1" fill="#e0f1e6" fill-opacity="0.66"/><circle cx="290.0" cy="2778.7" r="6.5" fill="#e0f1e6" fill-opacity="0.59"/><circle cx="312.8" cy="2778.7" r="5.9" fill="#e0f1e6" fill-opacity="0.52"/><circle cx="335.5" cy="2778.7" r="5.4" fill="#e0f1e6" fill-opacity="0.45"/><circle cx="358.2" cy="2778.7" r="4.8" fill="#e0f1e6" fill-opacity="0.38"/><circle cx="381.0" cy="2778.7" r="4.2" fill="#e0f1e6" fill-opacity="0.31"/><circle cx="403.8" cy="2778.7" r="4.1" fill="#e0f1e6" fill-opacity="0.24"/><circle cx="426.5" cy="2778.7" r="4.1" fill="#e0f1e6" fill-opacity="0.17"/><circle cx="449.2" cy="2778.7" r="4.1" fill="#e0f1e6" fill-opacity="0.10"/><circle cx="17.0" cy="2801.4" r="10.0" fill="#d6eeea" fill-opacity="1.00"/><circle cx="39.8" cy="2801.4" r="10.0" fill="#d6eeea" fill-opacity="1.00"/><circle cx="62.5" cy="2801.4" r="10.0" fill="#d6eeea" fill-opacity="1.00"/><circle cx="85.2" cy="2801.4" r="10.0" fill="#d6eeea" fill-opacity="1.00"/><circle cx="108.0" cy="2801.4" r="10.0" fill="#d6eeea" fill-opacity="1.00"/><circle cx="130.8" cy="2801.4" r="10.0" fill="#d6eeea" fill-opacity="1.00"/><circle cx="153.5" cy="2801.4" r="10.0" fill="#d6eeea" fill-opacity="1.00"/><circle cx="176.2" cy="2801.4" r="10.0" fill="#d6eeea" fill-opacity="0.95"/><circle cx="199.0" cy="2801.4" r="10.0" fill="#d6eeea" fill-opacity="0.88"/><circle cx="221.8" cy="2801.4" r="10.0" fill="#d6eeea" fill-opacity="0.81"/><circle cx="244.5" cy="2801.4" r="10.0" fill="#e0f1e6" fill-opacity="0.74"/><circle cx="267.2" cy="2801.4" r="7.1" fill="#e0f1e6" fill-opacity="0.66"/><circle cx="290.0" cy="2801.4" r="6.5" fill="#e0f1e6" fill-opacity="0.59"/><circle cx="312.8" cy="2801.4" r="5.9" fill="#e0f1e6" fill-opacity="0.52"/><circle cx="335.5" cy="2801.4" r="5.4" fill="#e0f1e6" fill-opacity="0.45"/><circle cx="358.2" cy="2801.4" r="4.8" fill="#e0f1e6" fill-opacity="0.38"/><circle cx="381.0" cy="2801.4" r="4.2" fill="#e0f1e6" fill-opacity="0.31"/><circle cx="403.8" cy="2801.4" r="4.1" fill="#e0f1e6" fill-opacity="0.24"/><circle cx="426.5" cy="2801.4" r="4.1" fill="#e0f1e6" fill-opacity="0.17"/><circle cx="449.2" cy="2801.4" r="4.1" fill="#e0f1e6" fill-opacity="0.10"/><circle cx="17.0" cy="2824.1" r="9.5" fill="#d6eeea" fill-opacity="1.00"/><circle cx="39.8" cy="2824.1" r="9.5" fill="#d6eeea" fill-opacity="1.00"/><circle cx="62.5" cy="2824.1" r="9.5" fill="#d6eeea" fill-opacity="1.00"/><circle cx="85.2" cy="2824.1" r="9.5" fill="#d6eeea" fill-opacity="1.00"/><circle cx="108.0" cy="2824.1" r="9.5" fill="#d6eeea" fill-opacity="1.00"/><circle cx="130.8" cy="2824.1" r="9.5" fill="#d6eeea" fill-opacity="1.00"/><circle cx="153.5" cy="2824.1" r="9.5" fill="#d6eeea" fill-opacity="1.00"/><circle cx="176.2" cy="2824.1" r="9.5" fill="#d6eeea" fill-opacity="0.95"/><circle cx="199.0" cy="2824.1" r="9.5" fill="#d6eeea" fill-opacity="0.88"/><circle cx="221.8" cy="2824.1" r="9.5" fill="#d6eeea" fill-opacity="0.81"/><circle cx="244.5" cy="2824.1" r="9.5" fill="#e0f1e6" fill-opacity="0.74"/><circle cx="267.2" cy="2824.1" r="9.0" fill="#e0f1e6" fill-opacity="0.66"/><circle cx="290.0" cy="2824.1" r="8.2" fill="#e0f1e6" fill-opacity="0.59"/><circle cx="312.8" cy="2824.1" r="7.5" fill="#e0f1e6" fill-opacity="0.52"/><circle cx="335.5" cy="2824.1" r="6.8" fill="#e0f1e6" fill-opacity="0.45"/><circle cx="358.2" cy="2824.1" r="6.1" fill="#e0f1e6" fill-opacity="0.38"/><circle cx="381.0" cy="2824.1" r="5.4" fill="#e0f1e6" fill-opacity="0.31"/><circle cx="403.8" cy="2824.1" r="5.2" fill="#e0f1e6" fill-opacity="0.24"/><circle cx="426.5" cy="2824.1" r="5.2" fill="#e0f1e6" fill-opacity="0.17"/><circle cx="449.2" cy="2824.1" r="5.2" fill="#e0f1e6" fill-opacity="0.10"/><circle cx="17.0" cy="2846.8" r="6.0" fill="#d6eeea" fill-opacity="1.00"/><circle cx="39.8" cy="2846.8" r="6.0" fill="#d6eeea" fill-opacity="1.00"/><circle cx="62.5" cy="2846.8" r="6.0" fill="#d6eeea" fill-opacity="1.00"/><circle cx="85.2" cy="2846.8" r="6.0" fill="#d6eeea" fill-opacity="1.00"/><circle cx="108.0" cy="2846.8" r="6.0" fill="#d6eeea" fill-opacity="1.00"/><circle cx="130.8" cy="2846.8" r="6.0" fill="#d6eeea" fill-opacity="1.00"/><circle cx="153.5" cy="2846.8" r="6.0" fill="#d6eeea" fill-opacity="1.00"/><circle cx="176.2" cy="2846.8" r="6.0" fill="#d6eeea" fill-opacity="0.95"/><circle cx="199.0" cy="2846.8" r="6.0" fill="#d6eeea" fill-opacity="0.88"/><circle cx="221.8" cy="2846.8" r="6.0" fill="#d6eeea" fill-opacity="0.81"/><circle cx="244.5" cy="2846.8" r="6.0" fill="#e0f1e6" fill-opacity="0.74"/><circle cx="267.2" cy="2846.8" r="5.7" fill="#e0f1e6" fill-opacity="0.66"/><circle cx="290.0" cy="2846.8" r="5.2" fill="#e0f1e6" fill-opacity="0.59"/><circle cx="312.8" cy="2846.8" r="4.7" fill="#e0f1e6" fill-opacity="0.52"/><circle cx="335.5" cy="2846.8" r="4.3" fill="#e0f1e6" fill-opacity="0.45"/><circle cx="358.2" cy="2846.8" r="3.8" fill="#e0f1e6" fill-opacity="0.38"/><circle cx="381.0" cy="2846.8" r="3.4" fill="#e0f1e6" fill-opacity="0.31"/><circle cx="403.8" cy="2846.8" r="3.3" fill="#e0f1e6" fill-opacity="0.24"/><circle cx="426.5" cy="2846.8" r="3.3" fill="#e0f1e6" fill-opacity="0.17"/><circle cx="449.2" cy="2846.8" r="3.3" fill="#e0f1e6" fill-opacity="0.10"/><circle cx="17.0" cy="2869.5" r="3.8" fill="#d6eeea" fill-opacity="1.00"/><circle cx="39.8" cy="2869.5" r="3.8" fill="#d6eeea" fill-opacity="1.00"/><circle cx="62.5" cy="2869.5" r="3.8" fill="#d6eeea" fill-opacity="1.00"/><circle cx="85.2" cy="2869.5" r="3.8" fill="#d6eeea" fill-opacity="1.00"/><circle cx="108.0" cy="2869.5" r="3.8" fill="#d6eeea" fill-opacity="1.00"/><circle cx="130.8" cy="2869.5" r="3.8" fill="#d6eeea" fill-opacity="1.00"/><circle cx="153.5" cy="2869.5" r="3.8" fill="#d6eeea" fill-opacity="1.00"/><circle cx="176.2" cy="2869.5" r="3.8" fill="#d6eeea" fill-opacity="0.95"/><circle cx="199.0" cy="2869.5" r="3.8" fill="#d6eeea" fill-opacity="0.88"/><circle cx="221.8" cy="2869.5" r="3.8" fill="#d6eeea" fill-opacity="0.81"/><circle cx="244.5" cy="2869.5" r="3.8" fill="#e0f1e6" fill-opacity="0.74"/><circle cx="267.2" cy="2869.5" r="3.6" fill="#e0f1e6" fill-opacity="0.66"/><circle cx="290.0" cy="2869.5" r="3.3" fill="#e0f1e6" fill-opacity="0.59"/><circle cx="312.8" cy="2869.5" r="3.0" fill="#e0f1e6" fill-opacity="0.52"/><circle cx="335.5" cy="2869.5" r="2.7" fill="#e0f1e6" fill-opacity="0.45"/><circle cx="358.2" cy="2869.5" r="2.4" fill="#e0f1e6" fill-opacity="0.38"/><circle cx="381.0" cy="2869.5" r="2.1" fill="#e0f1e6" fill-opacity="0.31"/><circle cx="403.8" cy="2869.5" r="2.1" fill="#e0f1e6" fill-opacity="0.24"/><circle cx="426.5" cy="2869.5" r="2.1" fill="#e0f1e6" fill-opacity="0.17"/><circle cx="449.2" cy="2869.5" r="2.1" fill="#e0f1e6" fill-opacity="0.10"/><circle cx="17.0" cy="2892.2" r="1.6" fill="#c9ddd9" fill-opacity="0.50"/><circle cx="39.8" cy="2892.2" r="1.6" fill="#c9ddd9" fill-opacity="0.50"/><circle cx="62.5" cy="2892.2" r="1.6" fill="#c9ddd9" fill-opacity="0.50"/><circle cx="85.2" cy="2892.2" r="1.6" fill="#c9ddd9" fill-opacity="0.50"/><circle cx="108.0" cy="2892.2" r="1.6" fill="#c9ddd9" fill-opacity="0.50"/><circle cx="130.8" cy="2892.2" r="1.6" fill="#c9ddd9" fill-opacity="0.50"/><circle cx="153.5" cy="2892.2" r="1.6" fill="#c9ddd9" fill-opacity="0.50"/><circle cx="176.2" cy="2892.2" r="1.6" fill="#c9ddd9" fill-opacity="0.47"/><circle cx="199.0" cy="2892.2" r="1.6" fill="#c9ddd9" fill-opacity="0.44"/><circle cx="221.8" cy="2892.2" r="1.6" fill="#c9ddd9" fill-opacity="0.40"/><circle cx="244.5" cy="2892.2" r="1.6" fill="#c9ddd9" fill-opacity="0.37"/><circle cx="267.2" cy="2892.2" r="1.5" fill="#c9ddd9" fill-opacity="0.33"/><circle cx="290.0" cy="2892.2" r="1.4" fill="#c9ddd9" fill-opacity="0.30"/><circle cx="312.8" cy="2892.2" r="1.3" fill="#c9ddd9" fill-opacity="0.26"/><circle cx="335.5" cy="2892.2" r="1.1" fill="#c9ddd9" fill-opacity="0.23"/><circle cx="358.2" cy="2892.2" r="1.0" fill="#c9ddd9" fill-opacity="0.19"/><circle cx="381.0" cy="2892.2" r="0.9" fill="#c9ddd9" fill-opacity="0.15"/><circle cx="403.8" cy="2892.2" r="0.9" fill="#c9ddd9" fill-opacity="0.12"/><circle cx="426.5" cy="2892.2" r="0.9" fill="#c9ddd9" fill-opacity="0.08"/><circle cx="449.2" cy="2892.2" r="0.9" fill="#c9ddd9" fill-opacity="0.05"/><circle cx="17.0" cy="2914.9" r="1.3" fill="#c9ddd9" fill-opacity="0.50"/><circle cx="39.8" cy="2914.9" r="1.3" fill="#c9ddd9" fill-opacity="0.50"/><circle cx="62.5" cy="2914.9" r="1.3" fill="#c9ddd9" fill-opacity="0.50"/><circle cx="85.2" cy="2914.9" r="1.3" fill="#c9ddd9" fill-opacity="0.50"/><circle cx="108.0" cy="2914.9" r="1.3" fill="#c9ddd9" fill-opacity="0.50"/><circle cx="130.8" cy="2914.9" r="1.3" fill="#c9ddd9" fill-opacity="0.50"/><circle cx="153.5" cy="2914.9" r="1.3" fill="#c9ddd9" fill-opacity="0.50"/><circle cx="176.2" cy="2914.9" r="1.3" fill="#c9ddd9" fill-opacity="0.47"/><circle cx="199.0" cy="2914.9" r="1.3" fill="#c9ddd9" fill-opacity="0.44"/><circle cx="221.8" cy="2914.9" r="1.3" fill="#c9ddd9" fill-opacity="0.40"/><circle cx="244.5" cy="2914.9" r="1.3" fill="#c9ddd9" fill-opacity="0.37"/><circle cx="267.2" cy="2914.9" r="1.2" fill="#c9ddd9" fill-opacity="0.33"/><circle cx="290.0" cy="2914.9" r="1.1" fill="#c9ddd9" fill-opacity="0.30"/><circle cx="312.8" cy="2914.9" r="1.0" fill="#c9ddd9" fill-opacity="0.26"/><circle cx="335.5" cy="2914.9" r="0.9" fill="#c9ddd9" fill-opacity="0.23"/><circle cx="358.2" cy="2914.9" r="0.8" fill="#c9ddd9" fill-opacity="0.19"/><circle cx="381.0" cy="2914.9" r="0.7" fill="#c9ddd9" fill-opacity="0.15"/><circle cx="403.8" cy="2914.9" r="0.7" fill="#c9ddd9" fill-opacity="0.12"/><circle cx="426.5" cy="2914.9" r="0.7" fill="#c9ddd9" fill-opacity="0.08"/><circle cx="449.2" cy="2914.9" r="0.7" fill="#c9ddd9" fill-opacity="0.05"/><circle cx="17.0" cy="2937.6" r="1.1" fill="#c9ddd9" fill-opacity="0.50"/><circle cx="39.8" cy="2937.6" r="1.1" fill="#c9ddd9" fill-opacity="0.50"/><circle cx="62.5" cy="2937.6" r="1.1" fill="#c9ddd9" fill-opacity="0.50"/><circle cx="85.2" cy="2937.6" r="1.1" fill="#c9ddd9" fill-opacity="0.50"/><circle cx="108.0" cy="2937.6" r="1.1" fill="#c9ddd9" fill-opacity="0.50"/><circle cx="130.8" cy="2937.6" r="1.1" fill="#c9ddd9" fill-opacity="0.50"/><circle cx="153.5" cy="2937.6" r="1.1" fill="#c9ddd9" fill-opacity="0.50"/><circle cx="176.2" cy="2937.6" r="1.1" fill="#c9ddd9" fill-opacity="0.47"/><circle cx="199.0" cy="2937.6" r="1.1" fill="#c9ddd9" fill-opacity="0.44"/><circle cx="221.8" cy="2937.6" r="1.1" fill="#c9ddd9" fill-opacity="0.40"/><circle cx="244.5" cy="2937.6" r="1.1" fill="#c9ddd9" fill-opacity="0.37"/><circle cx="267.2" cy="2937.6" r="1.0" fill="#c9ddd9" fill-opacity="0.33"/><circle cx="290.0" cy="2937.6" r="1.0" fill="#c9ddd9" fill-opacity="0.30"/><circle cx="312.8" cy="2937.6" r="0.9" fill="#c9ddd9" fill-opacity="0.26"/><circle cx="335.5" cy="2937.6" r="0.8" fill="#c9ddd9" fill-opacity="0.23"/><circle cx="358.2" cy="2937.6" r="0.7" fill="#c9ddd9" fill-opacity="0.19"/><circle cx="381.0" cy="2937.6" r="0.6" fill="#c9ddd9" fill-opacity="0.15"/><circle cx="403.8" cy="2937.6" r="0.6" fill="#c9ddd9" fill-opacity="0.12"/><circle cx="426.5" cy="2937.6" r="0.6" fill="#c9ddd9" fill-opacity="0.08"/><circle cx="449.2" cy="2937.6" r="0.6" fill="#c9ddd9" fill-opacity="0.05"/></svg>
<!-- /DECO -->
<!-- ===== LOGO ===== -->
<svg class="a" style="left:40px;top:30px" width="300" height="240" viewBox="40 30 300 240">
  <g fill="#b88a2a">
<path d="M200.0 62.0 C193.3 63.3 172.5 65.3 160.0 70.0 C147.5 74.7 134.5 81.7 125.0 90.0 C115.5 98.3 108.0 109.2 103.0 120.0 C98.0 130.8 95.3 142.8 95.0 155.0 C94.7 167.2 96.5 181.2 101.0 193.0 C105.5 204.8 113.0 217.2 122.0 226.0 C131.0 234.8 142.8 241.8 155.0 246.0 C167.2 250.2 182.2 251.7 195.0 251.0 C207.8 250.3 220.7 247.0 232.0 242.0 C243.3 237.0 257.8 224.5 263.0 221.0  C257.2 222.8 239.8 229.7 228.0 232.0 C216.2 234.3 204.7 236.0 192.0 235.0 C179.3 234.0 163.5 231.2 152.0 226.0 C140.5 220.8 130.2 213.0 123.0 204.0 C115.8 195.0 111.3 183.0 109.0 172.0 C106.7 161.0 106.8 148.7 109.0 138.0 C111.2 127.3 115.5 117.2 122.0 108.0 C128.5 98.8 135.0 90.7 148.0 83.0 C161.0 75.3 191.3 65.5 200.0 62.0 Z"/>
<path d="M173.8 67.9 L172.7 60.2 L168.2 60.9 L169.6 68.5ZM169.6 68.5 L168.0 60.2 L162.6 61.3 L164.7 69.6ZM164.7 69.6 L162.6 61.2 L159.9 61.9 L162.2 70.3ZM162.2 70.3 L161.2 66.7 L157.0 68.0 L158.2 71.5ZM158.2 71.5 L156.2 65.6 L152.4 66.9 L154.6 72.8ZM154.6 72.8 L153.1 68.8 L149.2 70.4 L150.9 74.3ZM150.9 74.3 L147.9 67.3 L144.7 68.8 L148.0 75.7ZM148.0 75.7 L138.4 55.8 L135.2 57.4 L145.4 76.9ZM145.4 76.9 L139.5 65.6 L136.6 67.2 L142.9 78.3ZM142.9 78.3 L139.9 73.1 L137.3 74.6 L140.4 79.7ZM140.4 79.7 L136.1 72.6 L131.7 75.5 L136.3 82.3ZM136.3 82.3 L126.9 68.5 L123.9 70.6 L133.9 84.1ZM133.9 84.1 L128.4 76.7 L124.2 80.0 L130.0 87.1ZM130.0 87.1 L100.7 51.6 L94.9 56.7 L126.2 90.5ZM126.2 90.5 L94.9 56.7 L90.2 61.3 L123.1 93.5ZM123.1 93.5 L101.6 72.5 L97.0 77.5 L119.6 97.2ZM119.6 97.2 L107.7 86.8 L103.9 91.5 L116.4 101.2ZM116.4 101.2 L108.5 95.1 L106.3 98.0 L114.4 103.8ZM114.4 103.8 L108.2 99.4 L106.4 102.0 L112.8 106.2ZM112.8 106.2 L92.8 92.9 L91.0 95.7 L111.3 108.4ZM111.3 108.4 L106.2 105.2 L104.0 109.0 L109.2 112.0ZM109.2 112.0 L100.8 107.2 L98.5 111.5 L107.2 115.8ZM107.2 115.8 L82.1 103.3 L80.3 107.3 L105.8 118.8ZM105.8 118.8 L80.3 107.3 L78.3 111.9 L104.3 122.3ZM104.3 122.3 L91.5 117.2 L90.0 121.3 L103.0 125.8ZM103.0 125.8 L87.2 120.3 L86.2 123.2 L102.1 128.3ZM102.1 128.3 L88.6 124.0 L87.7 126.8 L101.4 130.7ZM101.4 130.7 L82.2 125.2 L80.7 130.9 L100.2 135.4ZM100.2 135.4 L90.4 133.1 L89.4 138.2 L99.3 139.9ZM99.3 139.9 L93.3 138.9 L92.6 143.2 L98.7 143.9ZM98.7 143.9 L90.8 142.9 L90.5 145.7 L98.4 146.5ZM98.4 146.5 L55.6 142.3 L55.1 149.9 L98.1 151.6ZM98.1 151.6 L81.9 150.9 L81.8 156.3 L98.0 156.1ZM98.0 156.1 L88.2 156.2 L88.5 161.9 L98.2 161.2ZM98.2 161.2 L86.5 162.0 L86.8 165.9 L98.5 164.6ZM98.5 164.6 L91.4 165.4 L92.1 170.3 L99.1 169.2ZM99.1 169.2 L73.5 173.3 L74.6 179.1 L100.0 173.6ZM100.0 173.6 L93.7 175.0 L95.0 180.0 L101.1 178.3ZM101.1 178.3 L94.4 180.2 L96.0 185.4 L102.6 183.2ZM102.6 183.2 L90.6 187.2 L91.9 190.9 L103.8 186.4ZM103.8 186.4 L64.5 201.3 L67.4 208.1 L105.7 191.0ZM105.7 191.0 L67.4 208.1 L70.6 214.8 L107.9 195.5ZM107.9 195.5 L99.4 199.8 L101.2 203.1 L109.4 198.4ZM109.4 198.4 L103.5 201.8 L105.1 204.5 L110.9 200.9ZM110.9 200.9 L99.4 208.0 L101.1 210.8 L112.5 203.4ZM112.5 203.4 L106.0 207.6 L109.2 212.3 L115.5 207.6ZM115.5 207.6 L102.0 217.7 L103.8 220.2 L117.1 209.7ZM117.1 209.7 L108.9 216.2 L111.7 219.6 L119.6 212.7ZM119.6 212.7 L110.1 220.9 L112.5 223.6 L121.6 215.0ZM121.6 215.0 L105.6 230.0 L109.7 234.3 L125.0 218.4ZM125.0 218.4 L120.4 223.2 L123.3 225.8 L127.6 220.9ZM127.6 220.9 L123.4 225.6 L127.5 229.1 L131.5 224.1ZM131.5 224.1 L122.0 236.0 L125.6 238.7 L134.5 226.4ZM134.5 226.4 L126.3 237.8 L129.0 239.6 L136.8 228.0ZM136.8 228.0 L129.6 238.7 L134.5 241.8 L141.1 230.7ZM141.1 230.7 L133.0 244.5 L137.7 247.1 L145.2 233.0ZM145.2 233.0 L139.8 243.2 L143.5 245.1 L148.4 234.6ZM148.4 234.6 L142.9 246.3 L146.3 247.9 L151.4 235.9ZM151.4 235.9 L146.7 247.0 L151.8 249.0 L155.9 237.7ZM155.9 237.7 L153.1 245.5 L157.0 246.8 L159.5 238.9ZM159.5 238.9 L157.9 244.0 L161.2 245.0 L162.6 239.8ZM162.6 239.8 L159.3 252.0 L163.2 253.0 L166.0 240.7ZM166.0 240.7 L164.4 247.6 L168.9 248.5 L170.1 241.6ZM170.1 241.6 L168.1 252.4 L171.1 252.9 L172.8 242.0ZM172.8 242.0 L171.1 253.0 L176.6 253.6 L177.6 242.6ZM177.6 242.6 L176.7 252.5 L181.8 252.9 L182.2 242.9ZM182.2 242.9 L181.8 253.2 L186.8 253.3 L186.8 243.0ZM186.8 243.0 L186.9 253.9 L190.5 253.8 L190.0 242.9ZM190.0 242.9 L190.6 255.4 L195.5 255.1 L194.3 242.6ZM194.3 242.6 L194.7 246.7 L199.2 246.2 L198.6 242.1Z"/>
</g>
</svg>
<div class="a" style="left:143px;top:28.5px;font-family:'Liberation Serif',serif;font-size:84px;line-height:84px;color:#a31d34;letter-spacing:-2.6px">HK</div>
<div class="a nw" style="left:145px;top:104px;font-family:'Liberation Serif',serif;font-size:23.6px;line-height:24.3px;color:#a31d34;-webkit-text-stroke:0.5px #a31d34;">FINANCIAL<br>SERVICES<br>DEVELOPMENT<br>COUNCIL</div>
<div class="a nw" style="left:146px;top:202px;font-family:'Liberation Sans','Noto Sans CJK TC',sans-serif;font-size:19.6px;line-height:22px;color:#a31d34;font-weight:bold;">香港金融發展局</div>

<!-- ===== TITLE ===== -->
<div id="title" class="a"><span class="g" style="letter-spacing:0.9px">Hong Kong:</span><br><span style="letter-spacing:0.2px">Showcasing how Impact Capital</span><br><span style="letter-spacing:1.05px">Makes a Difference</span></div>

<!-- ===== BANNER ===== -->
<div class="a" style="left:150px;top:362px;width:920px;height:57px;background:linear-gradient(90deg,rgba(44,62,140,0) 0%,rgba(44,62,140,0.25) 8%,rgba(44,62,140,0.85) 16%,#2c3e8c 24%,#2e408e 60%,#3a4c98 80%,rgba(70,90,165,0.6) 92%,rgba(90,110,180,0) 100%);"></div>
<div class="a c b" style="left:0;width:1240px;top:368px;font-size:37.3px;line-height:40px;color:#fff;text-shadow:2px 3px 4px rgba(0,0,30,0.75);">Global and regional market overview</div>

<div class="a c b" style="left:0;width:1240px;top:427.8px;font-size:21.8px;line-height:26px;color:#1e1e1e;">Global impact investing market: US$1.571 trillion in 2024</div>
<div class="a c" style="left:0;width:1240px;top:459px;font-size:22px;line-height:26px;color:#505050;">Over 3,900 organisations worldwide are involved in managing these assets</div>
<div class="a c b blue" style="left:0;width:1240px;top:510.3px;font-size:25px;line-height:30px;">Building momentum: Asset allocations by geographic investment</div>

<!-- ===== REGION CARDS ===== -->
<div class="a rc" style="left:70px;width:232px;border-top-left-radius:14px;">
  <svg class="pin" viewBox="0 0 32 48"><circle cx="16" cy="15" r="15" fill="#25389b"/><path d="M4.5 24 L27.5 24 L16 47 Z" fill="#25389b"/><path d="M8.5 27.5 L23.5 27.5 L16 40.5 Z" fill="#e4f0e1"/><rect x="13.3" y="7.3" width="1.4" height="1.4" fill="#fff" fill-opacity="0.85"/><rect x="17.3" y="7.3" width="1.4" height="1.4" fill="#fff" fill-opacity="0.85"/><rect x="9.3" y="11.3" width="1.4" height="1.4" fill="#fff" fill-opacity="0.85"/><rect x="13.3" y="11.3" width="1.4" height="1.4" fill="#fff" fill-opacity="0.85"/><rect x="17.3" y="11.3" width="1.4" height="1.4" fill="#fff" fill-opacity="0.85"/><rect x="21.3" y="11.3" width="1.4" height="1.4" fill="#fff" fill-opacity="0.85"/><rect x="9.3" y="15.3" width="1.4" height="1.4" fill="#fff" fill-opacity="0.85"/><rect x="13.3" y="15.3" width="1.4" height="1.4" fill="#fff" fill-opacity="0.85"/><rect x="17.3" y="15.3" width="1.4" height="1.4" fill="#fff" fill-opacity="0.85"/><rect x="21.3" y="15.3" width="1.4" height="1.4" fill="#fff" fill-opacity="0.85"/><rect x="13.3" y="19.3" width="1.4" height="1.4" fill="#fff" fill-opacity="0.85"/><rect x="17.3" y="19.3" width="1.4" height="1.4" fill="#fff" fill-opacity="0.85"/></svg>
  <div class="t">North America</div>
  <div class="d" style="top:94.2px">Held the largest share of<br>AUM in impact investing<br>by region in 2024</div>
</div>
<div class="a rc" style="left:307px;width:242px;">
  <svg class="pin" viewBox="0 0 32 48"><circle cx="16" cy="15" r="15" fill="#25389b"/><path d="M4.5 24 L27.5 24 L16 47 Z" fill="#25389b"/><path d="M8.5 27.5 L23.5 27.5 L16 40.5 Z" fill="#e4f0e1"/><rect x="13.3" y="7.3" width="1.4" height="1.4" fill="#fff" fill-opacity="0.85"/><rect x="17.3" y="7.3" width="1.4" height="1.4" fill="#fff" fill-opacity="0.85"/><rect x="9.3" y="11.3" width="1.4" height="1.4" fill="#fff" fill-opacity="0.85"/><rect x="13.3" y="11.3" width="1.4" height="1.4" fill="#fff" fill-opacity="0.85"/><rect x="17.3" y="11.3" width="1.4" height="1.4" fill="#fff" fill-opacity="0.85"/><rect x="21.3" y="11.3" width="1.4" height="1.4" fill="#fff" fill-opacity="0.85"/><rect x="9.3" y="15.3" width="1.4" height="1.4" fill="#fff" fill-opacity="0.85"/><rect x="13.3" y="15.3" width="1.4" height="1.4" fill="#fff" fill-opacity="0.85"/><rect x="17.3" y="15.3" width="1.4" height="1.4" fill="#fff" fill-opacity="0.85"/><rect x="21.3" y="15.3" width="1.4" height="1.4" fill="#fff" fill-opacity="0.85"/><rect x="13.3" y="19.3" width="1.4" height="1.4" fill="#fff" fill-opacity="0.85"/><rect x="17.3" y="19.3" width="1.4" height="1.4" fill="#fff" fill-opacity="0.85"/></svg>
  <div class="t">East and South Asia</div>
  <div class="d" style="top:94.2px">Held AUM equivalent to<br>over half of North<br>America’s total</div>
</div>
<div class="a rc" style="left:555px;width:248px;">
  <svg class="pin" viewBox="0 0 32 48"><circle cx="16" cy="15" r="15" fill="#25389b"/><path d="M4.5 24 L27.5 24 L16 47 Z" fill="#25389b"/><path d="M8.5 27.5 L23.5 27.5 L16 40.5 Z" fill="#e4f0e1"/><rect x="13.3" y="7.3" width="1.4" height="1.4" fill="#fff" fill-opacity="0.85"/><rect x="17.3" y="7.3" width="1.4" height="1.4" fill="#fff" fill-opacity="0.85"/><rect x="9.3" y="11.3" width="1.4" height="1.4" fill="#fff" fill-opacity="0.85"/><rect x="13.3" y="11.3" width="1.4" height="1.4" fill="#fff" fill-opacity="0.85"/><rect x="17.3" y="11.3" width="1.4" height="1.4" fill="#fff" fill-opacity="0.85"/><rect x="21.3" y="11.3" width="1.4" height="1.4" fill="#fff" fill-opacity="0.85"/><rect x="9.3" y="15.3" width="1.4" height="1.4" fill="#fff" fill-opacity="0.85"/><rect x="13.3" y="15.3" width="1.4" height="1.4" fill="#fff" fill-opacity="0.85"/><rect x="17.3" y="15.3" width="1.4" height="1.4" fill="#fff" fill-opacity="0.85"/><rect x="21.3" y="15.3" width="1.4" height="1.4" fill="#fff" fill-opacity="0.85"/><rect x="13.3" y="19.3" width="1.4" height="1.4" fill="#fff" fill-opacity="0.85"/><rect x="17.3" y="19.3" width="1.4" height="1.4" fill="#fff" fill-opacity="0.85"/></svg>
  <div class="t">Oceania</div>
  <div class="d" style="top:94.5px;line-height:23px">Held the smallest share<br>of global AUM,<br>but experienced over tenfold<br>growth in the past five years</div>
</div>
<div class="a rc" style="left:808px;width:363px;border-top-right-radius:22px;">
  <svg class="pin" viewBox="0 0 32 48"><circle cx="16" cy="15" r="15" fill="#25389b"/><path d="M4.5 24 L27.5 24 L16 47 Z" fill="#25389b"/><path d="M8.5 27.5 L23.5 27.5 L16 40.5 Z" fill="#e4f0e1"/><rect x="13.3" y="7.3" width="1.4" height="1.4" fill="#fff" fill-opacity="0.85"/><rect x="17.3" y="7.3" width="1.4" height="1.4" fill="#fff" fill-opacity="0.85"/><rect x="9.3" y="11.3" width="1.4" height="1.4" fill="#fff" fill-opacity="0.85"/><rect x="13.3" y="11.3" width="1.4" height="1.4" fill="#fff" fill-opacity="0.85"/><rect x="17.3" y="11.3" width="1.4" height="1.4" fill="#fff" fill-opacity="0.85"/><rect x="21.3" y="11.3" width="1.4" height="1.4" fill="#fff" fill-opacity="0.85"/><rect x="9.3" y="15.3" width="1.4" height="1.4" fill="#fff" fill-opacity="0.85"/><rect x="13.3" y="15.3" width="1.4" height="1.4" fill="#fff" fill-opacity="0.85"/><rect x="17.3" y="15.3" width="1.4" height="1.4" fill="#fff" fill-opacity="0.85"/><rect x="21.3" y="15.3" width="1.4" height="1.4" fill="#fff" fill-opacity="0.85"/><rect x="13.3" y="19.3" width="1.4" height="1.4" fill="#fff" fill-opacity="0.85"/><rect x="17.3" y="19.3" width="1.4" height="1.4" fill="#fff" fill-opacity="0.85"/></svg>
  <div class="t" style="top:65.4px">Sub-Saharan Africa<br>Western, Northern, and Southern Europe</div>
  <div class="d" style="top:118px;line-height:23.1px">The top two regions where impact<br>investors planned to increase allocations<br>over the next five years</div>
</div>

<!-- ===== SDG PANEL ===== -->
<div class="a" style="left:62px;top:700px;width:1108px;height:474px;border-bottom-right-radius:50px;border-bottom-left-radius:20px;background:radial-gradient(ellipse 720px 440px at 100% 100%,#d8e5f4 0%,#e2ebf7 35%,rgba(238,243,251,0.7) 65%,rgba(255,255,255,0) 100%),linear-gradient(180deg,rgba(255,255,255,0) 0%,rgba(255,255,255,0) 75%,rgba(230,237,247,0.9) 100%);-webkit-mask-image:linear-gradient(90deg,rgba(0,0,0,0.35) 0%,rgba(0,0,0,0.6) 30%,#000 55%);mask-image:linear-gradient(90deg,rgba(0,0,0,0.35) 0%,rgba(0,0,0,0.6) 30%,#000 55%);"></div>
<div class="a b nw" style="left:93px;top:757.1px;font-size:15px;line-height:18px;color:#1a1a1a;">Overall progress across targets based on 2015–2025 global aggregate data</div>
<svg class="a" style="left:0;top:0" width="640" height="1100" viewBox="0 0 640 1100">
  <g stroke="#fff" stroke-width="1.2" stroke-linejoin="round">
<path d="M175.0 1005.0 A212 212 0 0 1 207.4 892.4 L293.8 946.6 A110 110 0 0 0 277.0 1005.0 Z" fill="#3b9651"/>
<path d="M207.4 892.4 A212 212 0 0 1 288.7 817.2 L336.0 907.5 A110 110 0 0 0 293.8 946.6 Z" fill="#f2a73a"/>
<path d="M288.7 817.2 A212 212 0 0 1 485.3 817.2 L438.0 907.5 A110 110 0 0 0 336.0 907.5 Z" fill="#f7d196"/>
<path d="M485.3 817.2 A212 212 0 0 1 566.6 892.4 L480.2 946.6 A110 110 0 0 0 438.0 907.5 Z" fill="#ee9b95"/>
<path d="M566.6 892.4 A212 212 0 0 1 599.0 1005.0 L497.0 1005.0 A110 110 0 0 0 480.2 946.6 Z" fill="#dc2a38"/>
  </g>
  <g font-family="Liberation Sans, Arial, sans-serif" font-size="17" text-anchor="middle">
    <text x="237" y="968" fill="#fff">18%</text>
    <text x="272" y="895" fill="#333">17%</text>
    <text x="387" y="853" fill="#333">31%</text>
    <text x="497" y="895" fill="#333">17%</text>
    <text x="532" y="968" fill="#fff">18%</text>
  </g>
  <g font-family="Liberation Sans, Arial, sans-serif" font-size="12.2" fill="#333">
    <circle cx="225.5" cy="1070" r="6.5" fill="#3b9651"/><text x="235.3" y="1074.3">On track or target met</text>
    <circle cx="382" cy="1070" r="6.5" fill="#f2a73a"/><text x="393.4" y="1074.3">Moderate progress</text>
    <circle cx="521.8" cy="1070" r="6.5" fill="#f7d196"/><text x="532" y="1074.3">Marginal progress</text>
    <circle cx="468.8" cy="1091.7" r="6.5" fill="#ee9b95"/><text x="479" y="1096">Stagnation</text>
    <circle cx="556.4" cy="1091.7" r="6.5" fill="#dc2a38"/><text x="568.7" y="1096">Regression</text>
  </g>
</svg>
<div class="a i nw" style="left:92px;top:1120.2px;font-size:12.2px;line-height:14px;color:#333;">Note:&nbsp; Percentages do not add up to 100 per cent due to rounding.</div>
<div class="a i nw" style="left:512px;top:1145.2px;font-size:14.6px;line-height:17px;color:#333;">Source; United Nations</div>

<div class="a c b blue" style="left:660px;width:500px;top:815.9px;font-size:25px;line-height:29.6px;">Global progress toward the 2030 Agenda<br>for Sustainable Development</div>
<div class="a" style="left:698.3px;top:891.5px;width:444.5px;font-size:16.8px;line-height:25.2px;color:#454545;">
  <div class="bl"><span class="jl" style="letter-spacing:0.691px">Renewed global and Asian policy focus on mobilising</span><span class="jl" style="letter-spacing:0.954px">private capital to help advance the UN Sustainable</span><span class="jl" style="letter-spacing:0.408px">Development Goals (SDGs), primarily through scalable,</span>local solutions.</div>
  <div class="bl"><span class="jl" style="letter-spacing:0.16px">Only one-fifth of the SDG targets have been met or are on</span>track since their adoption ten years ago.</div>
  <div class="bl"><span class="jl" style="letter-spacing:0.246px">This significant gap calls for urgent efforts in the next five</span>years before the 2030 deadline.</div>
</div>

<!-- ===== FAMILY OFFICES ===== -->
<div class="a c b blue" style="left:0;width:1240px;top:1213.2px;font-size:25px;line-height:30px;">Family offices emerged as influential players in driving sustainable finance in Asia</div>
<div class="a c b" style="left:0;width:1240px;top:1257.7px;font-size:21.95px;line-height:26px;color:#1a1a1a;">Top Asian family office impact investment themes in 2024</div>
<div class="a tc" style="left:70px;width:255px;"></div>
<div class="a tc" style="left:334px;width:254px;"></div>
<div class="a tc" style="left:596px;width:228px;"></div>
<div class="a tc" style="left:832px;width:337px;"></div>
<svg class="a" style="left:72px;top:1310px" width="90" height="85" viewBox="0 0 90 85" fill="none" stroke="#27a08e" stroke-width="3" stroke-linecap="round" stroke-linejoin="round">
  <path d="M46 25 C 38 25, 33.5 20.5, 34 14.5 C 40 14, 46 19, 46 25 Z"/>
  <path d="M46.5 24 C 47 18, 53 14, 59 14.5 C 59 20.5, 53 24, 46.5 24 Z"/>
  <path d="M46.5 25 L46.5 33.5"/>
  <path d="M35.5 35 C 44 32.5, 56 35, 64.5 42.5"/>
  <path d="M7.7 46.9 L13.7 43.1 L25.6 68.3 L20.5 71.7 Z"/>
  <path d="M14.9 43.9 C 21 41, 28 40, 32.4 41 C 36 42, 38 44, 40.1 44.4 L55.5 46.5 C 59 47.5, 59.5 52, 56 54.5 C 54 55.6, 52 55.6, 50 55.6 L38.4 56.3"/>
  <path d="M24.7 65.7 C 30 67.5, 40 67, 46.9 64.8 L59.7 59.7 L76.8 52 C 79.5 50.5, 79 47.5, 75.5 47.4 L59.7 51.2"/>
</svg>
<svg class="a" style="left:338px;top:1312px" width="80" height="80" viewBox="0 0 80 80" fill="none" stroke="#27a08e" stroke-width="2.8" stroke-linecap="round" stroke-linejoin="round">
  <path d="M10.2 15.5 H32.6 M16.3 20.5 H32.6 M10.2 28.4 H32.6 M16.3 33.4 H32.6" stroke-linecap="butt" stroke-width="2.6"/>
  <path d="M40 15.8 A 29.5 29.5 0 1 1 13 45.5 A 3.3 3.3 0 0 1 19.6 45.5 A 23 23 0 1 0 40 22.6 Z"/>
  <path d="M40 27.6 A 18 18 0 1 1 28.1 56.3 A 3.5 3.5 0 0 1 33.7 52.1 A 11 11 0 1 0 40 34.6 Z"/>
</svg>
<svg class="a" style="left:605px;top:1312px" width="70" height="80" viewBox="0 0 70 80" fill="none" stroke="#27a08e" stroke-width="2.5" stroke-linecap="round" stroke-linejoin="round">
  <path d="M18.6 12.3 H40.5"/>
  <path d="M24.6 13.5 C 24.6 18, 22 21, 17 23.5 C 12.5 25.5, 10.3 28, 10.3 32 V 67 C 10.3 71, 12.5 73.3, 16.6 73.3 H 42.5"/>
  <path d="M34.5 13.5 C 34.5 18, 36 21, 40 23 C 45 25.5, 47.8 28, 47.8 32 V 47.8"/>
  <path d="M10.3 32.5 H 47.8 M10.3 61.4 H 36.5" stroke-linecap="butt"/>
  <path d="M20 47.8 H 37.2 M29.2 39.8 V 55.7" stroke-width="2.8"/>
  <circle cx="51.8" cy="60.4" r="8.3"/>
  <path d="M57.5 54.7 L46.1 66.1"/>
</svg>
<svg class="a" style="left:835px;top:1312px" width="80" height="80" viewBox="0 0 80 80" fill="none" stroke="#27a08e" stroke-width="3" stroke-linecap="round" stroke-linejoin="round">
<path d="M8.4 59.5 L9.2 57.4 L10.3 55.8 L11.9 54.5 L13.7 53.5 L15.9 52.9 L18.4 52.6 L21.2 52.5 L24.1 52.7 L27.2 52.9 L30.3 53.2 L33.3 53.5 L36.3 53.6 L39.0 53.5 L41.5 53.2 L43.7 52.6 L45.6 51.7 L47.1 50.4 L48.3 48.7 L49.1 46.6 L49.6 44.3 L49.8 41.7 L49.8 38.8 L49.6 35.8 L49.4 32.7 L49.2 29.6 L49.0 26.6 L49.0 23.8 L49.2 21.1 L49.7 18.8 L50.5 16.7 L51.6 15.1 L53.2 13.7 L55.0 12.8 L57.2 12.2 L57.4 12.2" stroke-width="3.4"/>
<path d="M22.0 73.3 L24.1 72.5 L25.8 71.4 L27.1 69.9 L28.1 68.1 L28.7 65.9 L29.1 63.4 L29.2 60.6 L29.1 57.7 L28.9 54.6 L28.6 51.5 L28.4 48.5 L28.3 45.5 L28.4 42.8 L28.8 40.3 L29.4 38.1 L30.4 36.2 L31.7 34.7 L33.4 33.6 L35.4 32.8 L37.8 32.4 L40.4 32.2 L43.3 32.2 L46.3 32.4 L49.4 32.7 L52.5 33.0 L55.5 33.2 L58.3 33.2 L61.0 33.1 L63.3 32.6 L65.4 31.8 L67.1 30.7 L68.4 29.2 L69.4 27.3 L70.0 25.2 L70.0 25.0" stroke-width="3.4"/>
<line x1="14.9" y1="57.5" x2="24.1" y2="66.9" stroke-width="3.4"/>
<line x1="20.8" y1="55.7" x2="26.0" y2="61.0" stroke-width="3.4"/>
<line x1="37.3" y1="50.4" x2="31.6" y2="44.5" stroke-width="3.4"/>
<line x1="43.8" y1="47.7" x2="34.4" y2="38.1" stroke-width="3.4"/>
<line x1="46.6" y1="41.2" x2="40.8" y2="35.4" stroke-width="3.4"/>
<line x1="52.2" y1="24.2" x2="58.0" y2="30.0" stroke-width="3.4"/>
<line x1="54.3" y1="18.5" x2="63.7" y2="28.0" stroke-width="3.4"/>
</svg>
<div class="a b nw" style="left:164.5px;top:1332.4px;font-size:15.4px;line-height:23.5px;color:#222;">Food and<br>agriculture</div>
<div class="a b nw" style="left:421.5px;top:1332.4px;font-size:15.4px;line-height:23.5px;color:#222;">Circularity and<br>innovative materials</div>
<div class="a b nw" style="left:680.5px;top:1345.6px;font-size:15.6px;line-height:20px;color:#222;">Healthcare</div>
<div class="a nw" style="left:922.5px;top:1321.1px;font-size:15.6px;line-height:23px;color:#222;"><b>Nature-based solutions/<br>biodiversity</b><br><i style="color:#3a3a3a">(moved into the top spot in 2025)</i></div>

<!-- city image -->
<svg class="a" style="left:0;top:1700px" width="1240" height="380" viewBox="0 1700 1240 380">
<defs>
 <linearGradient id="sky" x1="0" y1="1700" x2="0" y2="1990" gradientUnits="userSpaceOnUse">
  <stop offset="0" stop-color="#ffffff"/><stop offset="0.25" stop-color="#f3f7f9"/><stop offset="0.6" stop-color="#e3ebf0"/><stop offset="1" stop-color="#e6edf1"/>
 </linearGradient>
 <linearGradient id="water" x1="0" y1="1985" x2="0" y2="2050" gradientUnits="userSpaceOnUse">
  <stop offset="0" stop-color="#cdd8df"/><stop offset="0.5" stop-color="#e2e9ed"/><stop offset="1" stop-color="#ffffff"/>
 </linearGradient>
 <linearGradient id="fadeL" x1="330" y1="0" x2="560" y2="0" gradientUnits="userSpaceOnUse">
  <stop offset="0" stop-color="#fff" stop-opacity="1"/><stop offset="1" stop-color="#fff" stop-opacity="0"/>
 </linearGradient>
 <filter id="soft"><feGaussianBlur stdDeviation="0.8"/></filter>
 <pattern id="win" width="6" height="4" patternUnits="userSpaceOnUse"><rect width="6" height="1.2" fill="#6d8796" fill-opacity="0.12"/></pattern>
 <filter id="blur6"><feGaussianBlur stdDeviation="10"/></filter>
 <pattern id="dotg" width="7" height="7" patternUnits="userSpaceOnUse"><circle cx="1.75" cy="1.75" r="1.6" fill="#8fd08f"/><circle cx="5.25" cy="5.25" r="1.6" fill="#8fd08f"/></pattern>
 <pattern id="doty" width="7" height="7" patternUnits="userSpaceOnUse"><circle cx="1.75" cy="1.75" r="1.6" fill="#c5e3a8"/><circle cx="5.25" cy="5.25" r="1.6" fill="#c5e3a8"/></pattern>
 <pattern id="dott" width="6" height="6" patternUnits="userSpaceOnUse"><circle cx="1.5" cy="1.5" r="1.5" fill="#5ebf8e"/><circle cx="4.5" cy="4.5" r="1.5" fill="#5ebf8e"/></pattern>
 <linearGradient id="af" x1="0" y1="0" x2="0" y2="1"><stop offset="0" stop-color="#fff"/><stop offset="0.55" stop-color="#fff" stop-opacity="0.8"/><stop offset="1" stop-color="#fff" stop-opacity="0"/></linearGradient>
 <linearGradient id="af2" x1="0" y1="1720" x2="0" y2="1900" gradientUnits="userSpaceOnUse"><stop offset="0" stop-color="#fff" stop-opacity="0.9"/><stop offset="0.5" stop-color="#fff" stop-opacity="0.6"/><stop offset="1" stop-color="#fff" stop-opacity="0"/></linearGradient>
 <linearGradient id="af3" x1="0" y1="1780" x2="0" y2="1875" gradientUnits="userSpaceOnUse"><stop offset="0" stop-color="#fff" stop-opacity="1"/><stop offset="0.6" stop-color="#fff" stop-opacity="0.8"/><stop offset="1" stop-color="#fff" stop-opacity="0"/></linearGradient>
 <linearGradient id="af4" x1="0" y1="1725" x2="0" y2="1845" gradientUnits="userSpaceOnUse"><stop offset="0" stop-color="#fff" stop-opacity="1"/><stop offset="0.65" stop-color="#fff" stop-opacity="0.9"/><stop offset="1" stop-color="#fff" stop-opacity="0"/></linearGradient>
 <mask id="am2" maskUnits="userSpaceOnUse" x="800" y="1700" width="300" height="220"><rect x="800" y="1700" width="300" height="220" fill="url(#af2)"/></mask>
 <mask id="am3" maskUnits="userSpaceOnUse" x="800" y="1700" width="300" height="220"><rect x="800" y="1700" width="300" height="220" fill="url(#af3)"/></mask>
 <mask id="am4" maskUnits="userSpaceOnUse" x="800" y="1700" width="300" height="220"><rect x="800" y="1700" width="300" height="220" fill="url(#af4)"/></mask>
</defs>
<rect x="300" y="1700" width="940" height="290" fill="url(#sky)"/>
<ellipse cx="1185" cy="1840" rx="90" ry="55" fill="#c9dce8" filter="url(#blur6)"/>
<ellipse cx="1000" cy="1830" rx="110" ry="40" fill="#f6f9fb" filter="url(#blur6)"/>
<ellipse cx="760" cy="1870" rx="160" ry="35" fill="#eef3f6" filter="url(#blur6)"/>

<path d="M430 1945 C 480 1935, 520 1926, 570 1918 C 600 1912, 615 1906, 630 1907 C 660 1912, 690 1915, 720 1905 C 740 1898, 760 1896, 790 1898 C 830 1900, 850 1903, 870 1908 L 900 1925 L 900 1990 L430 1990 Z" fill="#9fb2b3" filter="url(#soft)"/>
<path d="M640 1925 C 680 1915, 720 1905, 754 1899 C 790 1893, 840 1896, 870 1905 L 880 1990 L 640 1990 Z" fill="#83999a" opacity="0.8" filter="url(#soft)"/>
<path d="M1000 1935 C 1030 1915, 1060 1900, 1100 1892 C 1120 1887, 1140 1887, 1160 1896 C 1185 1906, 1210 1915, 1240 1918 L1240 1990 L1000 1990 Z" fill="#7f9593" filter="url(#soft)"/>
<path d="M780 1905 C 800 1895, 830 1890, 860 1893 L 880 1990 L 780 1990 Z" fill="#7f9492" opacity="0.7"/>
<g filter="url(#soft)"><rect x="440" y="1934" width="16" height="52" fill="#d9e2e8"/><rect x="455" y="1922" width="22" height="64" fill="#aabfcb"/><rect x="476" y="1922" width="18" height="64" fill="#d9e2e8"/><rect x="492" y="1942" width="10" height="44" fill="#d3dde4"/><rect x="502" y="1930" width="15" height="56" fill="#e4eaee"/><rect x="517" y="1943" width="18" height="43" fill="#c3d1da"/><rect x="533" y="1924" width="12" height="62" fill="#d3dde4"/><rect x="545" y="1935" width="14" height="51" fill="#dfe7ec"/><rect x="558" y="1932" width="19" height="54" fill="#c3d1da"/><rect x="576" y="1902" width="13" height="84" fill="#c3d1da"/><rect x="589" y="1902" width="14" height="84" fill="#a5b9c6"/><rect x="600" y="1919" width="17" height="67" fill="#c3d1da"/><rect x="619" y="1947" width="15" height="39" fill="#d3dde4"/><rect x="631" y="1918" width="23" height="68" fill="#bccbd4"/><rect x="656" y="1906" width="15" height="80" fill="#dfe7ec"/><rect x="671" y="1906" width="13" height="80" fill="#cad6de"/><rect x="681" y="1946" width="15" height="40" fill="#b3c5d0"/><rect x="695" y="1918" width="11" height="68" fill="#d9e2e8"/><rect x="703" y="1930" width="17" height="56" fill="#dfe7ec"/><rect x="722" y="1898" width="21" height="88" fill="#bccbd4"/><rect x="740" y="1898" width="15" height="88" fill="#a5b9c6"/><rect x="756" y="1898" width="24" height="88" fill="#d3dde4"/><rect x="777" y="1943" width="15" height="43" fill="#e4eaee"/><rect x="790" y="1923" width="24" height="63" fill="#a5b9c6"/><rect x="811" y="1943" width="18" height="43" fill="#bccbd4"/><rect x="826" y="1935" width="10" height="51" fill="#dfe7ec"/><rect x="834" y="1936" width="15" height="50" fill="#b3c5d0"/><rect x="850" y="1934" width="16" height="52" fill="#bccbd4"/><rect x="864" y="1945" width="11" height="41" fill="#e4eaee"/><rect x="873" y="1880" width="12" height="106" fill="#aabfcb"/><rect x="883" y="1880" width="23" height="106" fill="#e4eaee"/><rect x="903" y="1919" width="10" height="67" fill="#aabfcb"/><rect x="914" y="1939" width="13" height="47" fill="#a5b9c6"/><rect x="926" y="1932" width="23" height="54" fill="#aabfcb"/><rect x="946" y="1918" width="20" height="68" fill="#dfe7ec"/><rect x="965" y="1936" width="19" height="50" fill="#c3d1da"/><rect x="982" y="1923" width="23" height="63" fill="#d3dde4"/><rect x="1002" y="1924" width="15" height="62" fill="#d3dde4"/><rect x="1015" y="1934" width="15" height="52" fill="#b3c5d0"/><rect x="1027" y="1910" width="11" height="76" fill="#cad6de"/><rect x="1038" y="1910" width="19" height="76" fill="#b3c5d0"/><rect x="1057" y="1931" width="23" height="55" fill="#cad6de"/><rect x="1080" y="1917" width="23" height="69" fill="#c3d1da"/><rect x="1103" y="1926" width="20" height="60" fill="#c3d1da"/><rect x="1120" y="1940" width="17" height="46" fill="#b3c5d0"/><rect x="1138" y="1927" width="23" height="59" fill="#d9e2e8"/><rect x="1162" y="1897" width="22" height="89" fill="#d3dde4"/><rect x="1185" y="1936" width="18" height="50" fill="#bccbd4"/><rect x="1201" y="1902" width="9" height="84" fill="#c3d1da"/><rect x="1210" y="1902" width="24" height="84" fill="#cad6de"/><rect x="1233" y="1935" width="20" height="51" fill="#d9e2e8"/><rect x="1103" y="1815" width="24" height="171" fill="#dbe5eb"/><rect x="1107" y="1806" width="16" height="12" fill="#dbe5eb"/><rect x="1113" y="1798" width="4" height="10" fill="#dbe5eb"/><rect x="806" y="1925" width="16" height="60" fill="#e6cdb6"/><rect x="440" y="1880" width="800" height="106" fill="url(#win)"/></g>
<rect x="300" y="1983" width="940" height="6" fill="#b9c5ca" opacity="0.8"/>
<rect x="300" y="1988" width="940" height="62" fill="url(#water)"/>
<rect x="598" y="1993" width="32" height="6" rx="2" fill="#f2f4f2"/><rect x="748" y="1995" width="22" height="4" fill="#eef1f2"/><rect x="1062" y="1992" width="20" height="4" fill="#eef1f2"/>
<rect x="290" y="1700" width="280" height="360" fill="url(#fadeL)"/>
<rect x="0" y="1700" width="330" height="360" fill="#fff"/>
<g mask="url(#am2)"><path d="M850 1802 L898 1738 L962 1806" fill="none" stroke="url(#doty)" stroke-width="22"/><rect x="880" y="1748" width="40" height="140" fill="url(#doty)"/></g>
<g mask="url(#am3)"><path d="M824 1828 L854 1790 L885 1828" fill="none" stroke="url(#dotg)" stroke-width="13"/><rect x="845" y="1796" width="19" height="76" fill="url(#dotg)"/></g>
<g mask="url(#am4)"><path d="M997 1786 L1037 1735 L1078 1786" fill="none" stroke="url(#dott)" stroke-width="15"/><rect x="1026" y="1744" width="21" height="98" fill="url(#dott)"/></g>
<path d="M968 1950 L977 1950 L978 1988 L966 1988 Z" fill="#6b5436"/><path d="M972 1955 L955 1935 M973 1952 L990 1930" stroke="#5d4a30" stroke-width="3"/><path d="M1053.2 1895.0 L1055.5 1906.3 L1048.0 1916.3 L1040.5 1925.4 L1032.9 1934.1 L1020.1 1938.7 L1007.2 1941.2 L998.3 1949.1 L987.6 1959.6 L973.0 1961.4 L959.5 1954.6 L947.7 1949.1 L935.5 1945.5 L925.9 1938.7 L918.1 1930.9 L905.5 1925.4 L891.9 1918.0 L890.5 1906.3 L899.2 1895.0 L903.9 1885.5 L903.3 1875.2 L907.2 1865.4 L914.9 1857.0 L921.1 1846.8 L930.2 1837.3 L945.6 1836.3 L960.9 1841.4 L973.0 1841.4 L986.2 1836.5 L1000.4 1836.3 L1012.5 1841.6 L1024.9 1846.8 L1036.1 1853.8 L1038.8 1865.4 L1036.6 1877.0 L1042.1 1885.5Z" fill="#4a8a3a"/><circle cx="1000.8" cy="1931.2" r="5.0" fill="#2e6427"/><circle cx="1023.6" cy="1892.5" r="6.4" fill="#5a9a45"/><circle cx="975.1" cy="1888.3" r="6.2" fill="#5a9a45"/><circle cx="983.0" cy="1867.7" r="3.4" fill="#5e9f47"/><circle cx="962.9" cy="1888.1" r="3.8" fill="#4f8f3c"/><circle cx="927.1" cy="1847.1" r="2.6" fill="#6aaa50"/><circle cx="1023.1" cy="1933.5" r="4.3" fill="#2a5c24"/><circle cx="950.7" cy="1907.3" r="5.2" fill="#5a9a45"/><circle cx="1002.7" cy="1906.6" r="5.2" fill="#3f7d32"/><circle cx="1009.6" cy="1922.3" r="5.8" fill="#467f36"/><circle cx="1011.6" cy="1869.7" r="4.0" fill="#468538"/><circle cx="952.4" cy="1929.8" r="3.6" fill="#2e6427"/><circle cx="959.5" cy="1843.7" r="4.5" fill="#78b35a"/><circle cx="935.9" cy="1881.2" r="6.4" fill="#78b35a"/><circle cx="925.1" cy="1857.4" r="3.8" fill="#85bf66"/><circle cx="973.9" cy="1921.1" r="6.2" fill="#4b8b3a"/><circle cx="932.7" cy="1926.1" r="5.2" fill="#467f36"/><circle cx="913.3" cy="1925.4" r="6.3" fill="#3a7530"/><circle cx="927.8" cy="1897.0" r="3.5" fill="#5a9a45"/><circle cx="928.8" cy="1881.1" r="4.1" fill="#4f8f3c"/><circle cx="982.0" cy="1883.6" r="3.5" fill="#468538"/><circle cx="973.5" cy="1934.7" r="6.0" fill="#2e6427"/><circle cx="1034.2" cy="1890.1" r="4.4" fill="#468538"/><circle cx="1009.5" cy="1900.1" r="5.9" fill="#3a7530"/><circle cx="934.9" cy="1873.3" r="4.8" fill="#64a24c"/><circle cx="1007.8" cy="1926.9" r="3.1" fill="#2a5c24"/><circle cx="942.1" cy="1839.8" r="2.6" fill="#78b35a"/><circle cx="1007.9" cy="1858.8" r="3.5" fill="#78b35a"/><circle cx="987.8" cy="1907.7" r="2.9" fill="#468538"/><circle cx="977.5" cy="1879.9" r="3.0" fill="#64a24c"/><circle cx="935.1" cy="1887.8" r="4.5" fill="#78b35a"/><circle cx="998.9" cy="1938.6" r="3.3" fill="#2e6427"/><circle cx="932.0" cy="1870.8" r="5.5" fill="#6aaa50"/><circle cx="924.3" cy="1927.0" r="4.1" fill="#467f36"/><circle cx="971.8" cy="1947.3" r="3.8" fill="#4b8b3a"/><circle cx="1004.6" cy="1931.4" r="6.5" fill="#356f2b"/><circle cx="916.9" cy="1897.7" r="4.7" fill="#85bf66"/><circle cx="1009.0" cy="1889.2" r="5.3" fill="#5a9a45"/><circle cx="1035.9" cy="1915.5" r="6.4" fill="#3a7530"/><circle cx="944.1" cy="1860.9" r="6.0" fill="#5e9f47"/><circle cx="905.4" cy="1893.3" r="5.2" fill="#468538"/><circle cx="931.1" cy="1891.5" r="4.1" fill="#6aaa50"/><circle cx="964.1" cy="1884.0" r="3.6" fill="#468538"/><circle cx="965.6" cy="1860.8" r="3.4" fill="#5e9f47"/><circle cx="983.9" cy="1954.9" r="5.1" fill="#2e6427"/><circle cx="910.8" cy="1897.4" r="6.1" fill="#64a24c"/><circle cx="975.3" cy="1955.9" r="4.0" fill="#356f2b"/><circle cx="1036.4" cy="1883.7" r="2.5" fill="#64a24c"/><circle cx="1020.5" cy="1858.7" r="2.9" fill="#85bf66"/><circle cx="940.0" cy="1871.2" r="5.5" fill="#5a9a45"/><circle cx="963.5" cy="1870.4" r="3.8" fill="#5a9a45"/><circle cx="967.7" cy="1954.5" r="3.8" fill="#2e6427"/><circle cx="1017.7" cy="1869.9" r="3.5" fill="#468538"/><circle cx="996.0" cy="1921.8" r="4.1" fill="#3a7530"/><circle cx="940.5" cy="1849.7" r="5.0" fill="#78b35a"/><circle cx="1043.3" cy="1906.9" r="6.2" fill="#2e6427"/><circle cx="1023.9" cy="1914.9" r="4.1" fill="#4b8b3a"/><circle cx="973.4" cy="1900.6" r="4.7" fill="#64a24c"/><circle cx="988.5" cy="1925.3" r="2.5" fill="#4b8b3a"/><circle cx="958.3" cy="1892.9" r="3.3" fill="#5a9a45"/><circle cx="984.4" cy="1950.6" r="5.9" fill="#2e6427"/><circle cx="961.0" cy="1880.7" r="4.2" fill="#5a9a45"/><circle cx="1000.4" cy="1924.9" r="4.6" fill="#2a5c24"/><circle cx="901.9" cy="1905.1" r="3.9" fill="#64a24c"/><circle cx="959.3" cy="1938.4" r="2.5" fill="#356f2b"/><circle cx="1022.1" cy="1912.1" r="5.2" fill="#3a7530"/><circle cx="955.8" cy="1912.7" r="4.8" fill="#468538"/><circle cx="984.7" cy="1908.8" r="6.2" fill="#4b8b3a"/><circle cx="983.1" cy="1918.4" r="6.3" fill="#3a7530"/><circle cx="989.4" cy="1871.0" r="2.7" fill="#78b35a"/><circle cx="1021.5" cy="1900.0" r="4.4" fill="#4b8b3a"/><circle cx="998.6" cy="1842.1" r="5.2" fill="#6aaa50"/><circle cx="1014.0" cy="1889.0" r="6.3" fill="#3a7530"/><circle cx="1020.2" cy="1897.6" r="5.0" fill="#4b8b3a"/><circle cx="953.7" cy="1875.4" r="6.2" fill="#5e9f47"/><circle cx="993.3" cy="1951.2" r="4.7" fill="#356f2b"/><circle cx="980.4" cy="1842.4" r="6.1" fill="#78b35a"/><circle cx="938.1" cy="1931.1" r="6.0" fill="#3f7d32"/><circle cx="1035.0" cy="1865.4" r="5.5" fill="#5a9a45"/><circle cx="971.4" cy="1871.9" r="4.6" fill="#85bf66"/><circle cx="998.9" cy="1914.4" r="4.2" fill="#4b8b3a"/><circle cx="973.5" cy="1853.8" r="3.5" fill="#5e9f47"/><circle cx="982.7" cy="1937.4" r="2.7" fill="#2e6427"/><circle cx="1043.6" cy="1907.4" r="4.8" fill="#356f2b"/><circle cx="994.1" cy="1914.5" r="3.1" fill="#3f7d32"/><circle cx="1036.7" cy="1896.2" r="4.8" fill="#4b8b3a"/><circle cx="984.2" cy="1919.9" r="5.4" fill="#2a5c24"/><circle cx="966.7" cy="1885.8" r="6.2" fill="#85bf66"/><circle cx="922.7" cy="1904.6" r="5.0" fill="#4f8f3c"/><circle cx="1017.8" cy="1856.0" r="4.0" fill="#5e9f47"/><circle cx="992.6" cy="1840.5" r="3.3" fill="#6aaa50"/><circle cx="972.2" cy="1869.9" r="3.0" fill="#64a24c"/><circle cx="1019.9" cy="1922.8" r="5.1" fill="#2e6427"/><circle cx="912.5" cy="1895.7" r="3.4" fill="#64a24c"/><circle cx="1018.5" cy="1876.2" r="2.5" fill="#64a24c"/><circle cx="1032.6" cy="1912.4" r="4.2" fill="#3f7d32"/><circle cx="1009.6" cy="1894.4" r="5.3" fill="#3a7530"/><circle cx="962.3" cy="1898.7" r="6.3" fill="#468538"/><circle cx="974.7" cy="1853.8" r="4.3" fill="#78b35a"/><circle cx="936.3" cy="1906.4" r="5.9" fill="#467f36"/><circle cx="983.6" cy="1842.6" r="5.5" fill="#78b35a"/><circle cx="1002.9" cy="1934.0" r="3.8" fill="#2e6427"/><circle cx="1016.2" cy="1887.5" r="3.3" fill="#5a9a45"/><circle cx="993.6" cy="1872.4" r="2.9" fill="#4f8f3c"/><circle cx="954.8" cy="1880.4" r="3.0" fill="#5a9a45"/><circle cx="953.6" cy="1891.3" r="3.5" fill="#4f8f3c"/><circle cx="974.8" cy="1936.8" r="5.7" fill="#356f2b"/><circle cx="969.0" cy="1889.8" r="3.7" fill="#64a24c"/><circle cx="1011.3" cy="1868.8" r="4.8" fill="#5e9f47"/><circle cx="980.3" cy="1853.4" r="3.2" fill="#6aaa50"/><circle cx="979.8" cy="1866.7" r="4.4" fill="#78b35a"/><circle cx="962.3" cy="1927.9" r="4.5" fill="#3a7530"/><circle cx="1012.0" cy="1905.5" r="2.9" fill="#467f36"/><circle cx="973.6" cy="1875.1" r="3.7" fill="#5e9f47"/><circle cx="987.0" cy="1887.8" r="5.5" fill="#3f7d32"/><circle cx="937.1" cy="1866.4" r="4.7" fill="#78b35a"/><circle cx="1032.2" cy="1908.8" r="4.9" fill="#3f7d32"/><circle cx="941.9" cy="1907.1" r="2.6" fill="#64a24c"/><circle cx="1043.1" cy="1899.5" r="5.9" fill="#2e6427"/><circle cx="969.0" cy="1858.7" r="4.0" fill="#78b35a"/><circle cx="953.6" cy="1856.1" r="3.8" fill="#78b35a"/><circle cx="958.2" cy="1942.0" r="5.3" fill="#2e6427"/><circle cx="1001.5" cy="1874.1" r="6.5" fill="#468538"/><circle cx="1002.3" cy="1848.0" r="5.4" fill="#85bf66"/><circle cx="1002.1" cy="1882.0" r="6.4" fill="#5a9a45"/><circle cx="990.6" cy="1842.2" r="6.1" fill="#78b35a"/><circle cx="913.5" cy="1895.2" r="4.6" fill="#468538"/><circle cx="924.5" cy="1929.7" r="5.6" fill="#3f7d32"/><circle cx="975.9" cy="1897.6" r="2.9" fill="#468538"/><circle cx="1032.2" cy="1909.4" r="2.9" fill="#3a7530"/><circle cx="929.8" cy="1847.5" r="3.7" fill="#6aaa50"/><circle cx="972.0" cy="1899.2" r="4.1" fill="#3a7530"/><circle cx="896.3" cy="1908.9" r="6.0" fill="#64a24c"/><circle cx="1000.7" cy="1919.2" r="6.2" fill="#467f36"/><circle cx="989.9" cy="1866.7" r="5.6" fill="#85bf66"/><circle cx="1040.3" cy="1909.4" r="5.3" fill="#3f7d32"/><circle cx="983.5" cy="1871.7" r="4.8" fill="#5a9a45"/><circle cx="1007.4" cy="1857.0" r="3.2" fill="#4f8f3c"/><circle cx="999.0" cy="1933.6" r="4.1" fill="#356f2b"/><circle cx="923.8" cy="1924.0" r="5.9" fill="#3f7d32"/><circle cx="974.7" cy="1931.1" r="3.7" fill="#467f36"/><circle cx="994.9" cy="1894.6" r="6.4" fill="#4b8b3a"/><circle cx="956.8" cy="1844.1" r="3.2" fill="#5e9f47"/><circle cx="1038.9" cy="1889.1" r="6.1" fill="#468538"/><circle cx="1034.1" cy="1862.8" r="5.8" fill="#4f8f3c"/><circle cx="971.0" cy="1886.0" r="3.7" fill="#4f8f3c"/><circle cx="960.1" cy="1884.4" r="6.3" fill="#468538"/><circle cx="1013.5" cy="1914.8" r="6.4" fill="#2a5c24"/><circle cx="934.6" cy="1897.1" r="4.8" fill="#5a9a45"/><circle cx="951.1" cy="1944.9" r="3.1" fill="#356f2b"/><circle cx="958.9" cy="1920.8" r="3.9" fill="#3f7d32"/><circle cx="939.3" cy="1923.2" r="6.1" fill="#467f36"/><circle cx="917.6" cy="1905.9" r="4.6" fill="#468538"/><circle cx="967.0" cy="1919.8" r="4.8" fill="#4b8b3a"/><circle cx="915.3" cy="1885.3" r="5.0" fill="#64a24c"/><circle cx="982.1" cy="1918.3" r="4.7" fill="#2e6427"/><circle cx="1026.0" cy="1922.6" r="3.6" fill="#2a5c24"/><circle cx="942.0" cy="1878.4" r="4.5" fill="#6aaa50"/><circle cx="1006.0" cy="1858.9" r="2.8" fill="#5a9a45"/><circle cx="955.1" cy="1855.4" r="4.7" fill="#78b35a"/><circle cx="931.6" cy="1856.2" r="6.5" fill="#5e9f47"/><circle cx="968.4" cy="1945.8" r="4.2" fill="#3a7530"/><circle cx="1015.1" cy="1888.5" r="6.1" fill="#3a7530"/><circle cx="1022.1" cy="1877.6" r="5.9" fill="#5a9a45"/><circle cx="1015.7" cy="1907.9" r="4.0" fill="#4b8b3a"/><circle cx="938.3" cy="1892.7" r="3.1" fill="#5a9a45"/><circle cx="1021.6" cy="1923.4" r="6.1" fill="#467f36"/><circle cx="952.4" cy="1931.5" r="6.2" fill="#3f7d32"/><circle cx="1030.2" cy="1882.7" r="4.4" fill="#467f36"/><circle cx="993.3" cy="1922.8" r="5.8" fill="#3f7d32"/><circle cx="999.8" cy="1892.6" r="6.2" fill="#468538"/><circle cx="1003.3" cy="1934.0" r="4.0" fill="#467f36"/><circle cx="928.8" cy="1851.4" r="2.9" fill="#6aaa50"/><circle cx="1007.6" cy="1918.5" r="5.1" fill="#4b8b3a"/><circle cx="963.1" cy="1947.2" r="6.2" fill="#3a7530"/><circle cx="1002.7" cy="1925.3" r="2.9" fill="#2a5c24"/><circle cx="927.5" cy="1921.0" r="5.8" fill="#3f7d32"/><circle cx="923.1" cy="1918.9" r="2.7" fill="#3a7530"/><circle cx="975.3" cy="1927.8" r="4.8" fill="#467f36"/><circle cx="986.8" cy="1841.2" r="5.6" fill="#85bf66"/><circle cx="1030.2" cy="1858.8" r="5.7" fill="#85bf66"/><circle cx="974.5" cy="1867.4" r="4.3" fill="#4f8f3c"/><circle cx="991.5" cy="1893.3" r="3.0" fill="#468538"/><circle cx="945.3" cy="1940.8" r="4.2" fill="#3a7530"/><circle cx="1034.4" cy="1919.4" r="3.2" fill="#2e6427"/><circle cx="990.6" cy="1937.8" r="4.6" fill="#356f2b"/><circle cx="954.5" cy="1905.4" r="4.6" fill="#3f7d32"/><circle cx="989.1" cy="1859.6" r="6.4" fill="#468538"/><circle cx="995.6" cy="1939.7" r="3.4" fill="#2e6427"/><circle cx="1000.6" cy="1932.7" r="2.7" fill="#356f2b"/><circle cx="961.8" cy="1870.3" r="2.9" fill="#6aaa50"/><circle cx="1006.6" cy="1845.1" r="6.0" fill="#6aaa50"/><circle cx="945.3" cy="1843.5" r="3.5" fill="#5e9f47"/><circle cx="956.1" cy="1901.9" r="6.4" fill="#3a7530"/><circle cx="1031.5" cy="1902.2" r="3.0" fill="#356f2b"/><circle cx="1011.3" cy="1885.7" r="6.3" fill="#4f8f3c"/><circle cx="939.8" cy="1880.8" r="5.0" fill="#85bf66"/><circle cx="952.0" cy="1938.5" r="3.0" fill="#2e6427"/><circle cx="913.0" cy="1873.5" r="4.5" fill="#78b35a"/><circle cx="991.8" cy="1839.0" r="3.5" fill="#6aaa50"/><circle cx="985.2" cy="1861.7" r="4.4" fill="#64a24c"/><circle cx="1039.8" cy="1919.5" r="5.5" fill="#356f2b"/><circle cx="953.6" cy="1869.6" r="3.1" fill="#5e9f47"/><circle cx="997.8" cy="1888.5" r="4.6" fill="#64a24c"/><circle cx="989.4" cy="1890.0" r="3.2" fill="#467f36"/><circle cx="933.5" cy="1856.4" r="3.4" fill="#78b35a"/><circle cx="986.2" cy="1927.9" r="4.4" fill="#467f36"/><circle cx="1002.2" cy="1919.0" r="4.2" fill="#2a5c24"/><circle cx="945.7" cy="1920.5" r="6.0" fill="#3a7530"/><circle cx="982.9" cy="1887.1" r="5.6" fill="#64a24c"/><circle cx="934.6" cy="1861.1" r="4.1" fill="#85bf66"/><circle cx="944.6" cy="1929.9" r="5.5" fill="#3f7d32"/><circle cx="982.3" cy="1872.7" r="5.2" fill="#5a9a45"/><circle cx="999.8" cy="1858.2" r="4.2" fill="#78b35a"/><circle cx="906.9" cy="1885.2" r="4.7" fill="#6aaa50"/><circle cx="1033.5" cy="1878.4" r="4.2" fill="#4f8f3c"/><circle cx="970.9" cy="1902.4" r="3.5" fill="#5a9a45"/><circle cx="1012.8" cy="1908.7" r="5.4" fill="#467f36"/><circle cx="1038.6" cy="1889.6" r="3.9" fill="#467f36"/><circle cx="994.1" cy="1855.8" r="6.4" fill="#468538"/><circle cx="986.9" cy="1882.0" r="3.2" fill="#5a9a45"/><circle cx="996.8" cy="1846.4" r="5.9" fill="#5e9f47"/><circle cx="944.1" cy="1914.7" r="3.3" fill="#5a9a45"/><circle cx="913.6" cy="1889.0" r="4.0" fill="#64a24c"/><circle cx="964.5" cy="1890.2" r="5.1" fill="#85bf66"/><circle cx="902.9" cy="1913.8" r="5.8" fill="#4f8f3c"/><circle cx="1011.4" cy="1900.9" r="5.2" fill="#4b8b3a"/><circle cx="989.2" cy="1914.4" r="4.3" fill="#4b8b3a"/><circle cx="961.8" cy="1900.7" r="4.4" fill="#5a9a45"/><circle cx="1010.0" cy="1928.4" r="2.5" fill="#3a7530"/><circle cx="995.3" cy="1913.0" r="5.6" fill="#356f2b"/><circle cx="999.1" cy="1908.8" r="3.9" fill="#3a7530"/><circle cx="978.4" cy="1855.5" r="4.2" fill="#4f8f3c"/><circle cx="899.9" cy="1919.8" r="3.0" fill="#4b8b3a"/><circle cx="996.4" cy="1869.0" r="5.4" fill="#468538"/><circle cx="961.1" cy="1856.7" r="2.9" fill="#85bf66"/><circle cx="979.4" cy="1926.9" r="4.2" fill="#3a7530"/><circle cx="1051.8" cy="1898.4" r="3.9" fill="#2e6427"/><circle cx="1017.2" cy="1856.9" r="5.1" fill="#64a24c"/><circle cx="1005.7" cy="1920.0" r="3.1" fill="#467f36"/><circle cx="970.3" cy="1877.0" r="6.2" fill="#468538"/><circle cx="938.1" cy="1893.5" r="4.8" fill="#6aaa50"/><circle cx="1013.9" cy="1890.3" r="4.2" fill="#64a24c"/><circle cx="927.1" cy="1849.4" r="5.7" fill="#78b35a"/><circle cx="931.8" cy="1872.7" r="3.8" fill="#6aaa50"/><circle cx="991.1" cy="1874.4" r="6.0" fill="#5e9f47"/><circle cx="1047.4" cy="1903.4" r="5.7" fill="#4b8b3a"/><circle cx="933.0" cy="1867.1" r="5.1" fill="#78b35a"/><circle cx="1030.5" cy="1921.6" r="4.3" fill="#2e6427"/><circle cx="1034.4" cy="1869.5" r="5.7" fill="#4f8f3c"/><circle cx="969.0" cy="1921.0" r="5.1" fill="#467f36"/><circle cx="1050.9" cy="1896.4" r="3.9" fill="#4b8b3a"/><circle cx="975.4" cy="1856.3" r="3.8" fill="#6aaa50"/><circle cx="995.0" cy="1867.8" r="6.3" fill="#4f8f3c"/><circle cx="938.4" cy="1928.8" r="6.3" fill="#2e6427"/><circle cx="898.2" cy="1919.2" r="6.2" fill="#468538"/><circle cx="984.7" cy="1870.3" r="5.7" fill="#78b35a"/><circle cx="984.5" cy="1874.8" r="6.4" fill="#5a9a45"/><circle cx="911.4" cy="1874.6" r="4.5" fill="#6aaa50"/><circle cx="1002.2" cy="1864.6" r="5.8" fill="#85bf66"/><circle cx="996.2" cy="1924.3" r="6.2" fill="#356f2b"/><circle cx="944.3" cy="1856.5" r="3.0" fill="#6aaa50"/><circle cx="968.2" cy="1898.3" r="6.0" fill="#5a9a45"/><circle cx="963.8" cy="1923.0" r="3.8" fill="#467f36"/><circle cx="952.7" cy="1845.9" r="4.7" fill="#5e9f47"/><circle cx="972.7" cy="1893.9" r="2.6" fill="#4b8b3a"/><circle cx="947.5" cy="1899.1" r="4.6" fill="#64a24c"/><circle cx="942.4" cy="1942.2" r="4.3" fill="#2a5c24"/><circle cx="976.7" cy="1910.7" r="2.6" fill="#4f8f3c"/><circle cx="1039.3" cy="1905.8" r="4.3" fill="#3a7530"/><circle cx="1013.0" cy="1877.2" r="4.2" fill="#5a9a45"/><circle cx="1012.3" cy="1936.1" r="2.9" fill="#356f2b"/><circle cx="1005.8" cy="1856.5" r="4.5" fill="#6aaa50"/><circle cx="994.0" cy="1898.4" r="3.4" fill="#4f8f3c"/><circle cx="1003.2" cy="1886.1" r="4.5" fill="#5a9a45"/><circle cx="982.9" cy="1906.2" r="4.2" fill="#3f7d32"/><circle cx="906.7" cy="1880.9" r="2.9" fill="#468538"/><circle cx="1022.1" cy="1919.0" r="2.7" fill="#2a5c24"/><circle cx="974.0" cy="1849.7" r="3.0" fill="#78b35a"/><circle cx="1027.3" cy="1870.2" r="5.9" fill="#468538"/><circle cx="983.2" cy="1955.4" r="2.5" fill="#2a5c24"/><circle cx="910.8" cy="1897.9" r="4.4" fill="#64a24c"/><circle cx="1032.2" cy="1871.7" r="5.2" fill="#468538"/><circle cx="937.2" cy="1936.6" r="4.7" fill="#2e6427"/><circle cx="985.5" cy="1926.7" r="2.8" fill="#467f36"/><circle cx="930.5" cy="1917.4" r="4.7" fill="#468538"/><circle cx="977.7" cy="1868.3" r="3.7" fill="#6aaa50"/><circle cx="985.1" cy="1915.3" r="4.0" fill="#4b8b3a"/><circle cx="999.3" cy="1942.9" r="4.4" fill="#356f2b"/><circle cx="994.9" cy="1861.0" r="4.3" fill="#64a24c"/><circle cx="953.1" cy="1892.0" r="6.4" fill="#5a9a45"/><circle cx="949.6" cy="1921.9" r="2.9" fill="#3f7d32"/><circle cx="981.3" cy="1883.0" r="3.3" fill="#64a24c"/><circle cx="1007.1" cy="1907.5" r="3.6" fill="#3a7530"/><circle cx="1018.5" cy="1913.1" r="6.4" fill="#356f2b"/><circle cx="1017.6" cy="1909.4" r="6.2" fill="#467f36"/><circle cx="953.5" cy="1897.8" r="5.1" fill="#467f36"/><circle cx="951.9" cy="1889.6" r="2.8" fill="#78b35a"/><circle cx="1014.5" cy="1919.1" r="5.8" fill="#4b8b3a"/><circle cx="929.3" cy="1863.2" r="5.5" fill="#5e9f47"/><circle cx="1004.4" cy="1842.4" r="2.6" fill="#6aaa50"/><circle cx="1021.4" cy="1907.6" r="4.4" fill="#2e6427"/><circle cx="912.1" cy="1918.7" r="3.1" fill="#468538"/><circle cx="978.4" cy="1848.7" r="6.1" fill="#5e9f47"/><circle cx="947.4" cy="1940.8" r="3.0" fill="#2a5c24"/><circle cx="939.4" cy="1868.3" r="6.4" fill="#4f8f3c"/><circle cx="977.2" cy="1913.4" r="5.0" fill="#4f8f3c"/><circle cx="927.4" cy="1851.4" r="5.3" fill="#5e9f47"/><circle cx="1034.1" cy="1883.2" r="2.8" fill="#64a24c"/><circle cx="999.6" cy="1890.5" r="3.2" fill="#3f7d32"/><circle cx="911.9" cy="1869.0" r="5.0" fill="#6aaa50"/><circle cx="989.3" cy="1875.9" r="6.1" fill="#64a24c"/><circle cx="938.1" cy="1876.2" r="5.0" fill="#468538"/><circle cx="918.1" cy="1911.6" r="5.9" fill="#64a24c"/><circle cx="916.6" cy="1874.0" r="5.5" fill="#6aaa50"/><circle cx="1005.1" cy="1894.3" r="4.2" fill="#4b8b3a"/><circle cx="1010.6" cy="1880.1" r="3.5" fill="#64a24c"/><circle cx="954.6" cy="1908.0" r="4.1" fill="#3a7530"/><circle cx="954.7" cy="1885.1" r="3.9" fill="#468538"/><circle cx="938.1" cy="1876.4" r="3.4" fill="#5a9a45"/><circle cx="1006.0" cy="1907.1" r="5.6" fill="#467f36"/><circle cx="935.1" cy="1841.8" r="3.3" fill="#6aaa50"/><circle cx="924.8" cy="1870.7" r="2.8" fill="#5e9f47"/><circle cx="1000.7" cy="1929.5" r="4.2" fill="#2a5c24"/><circle cx="921.0" cy="1925.5" r="5.8" fill="#3f7d32"/><circle cx="970.4" cy="1854.3" r="4.1" fill="#78b35a"/><circle cx="956.4" cy="1945.2" r="5.5" fill="#4b8b3a"/><circle cx="1024.5" cy="1928.0" r="4.8" fill="#356f2b"/><circle cx="999.5" cy="1883.4" r="5.5" fill="#4f8f3c"/><circle cx="925.4" cy="1854.8" r="4.6" fill="#85bf66"/><circle cx="966.3" cy="1874.0" r="4.3" fill="#64a24c"/><circle cx="1022.5" cy="1931.8" r="5.4" fill="#356f2b"/><circle cx="915.5" cy="1887.3" r="5.3" fill="#4f8f3c"/><circle cx="978.2" cy="1950.4" r="5.5" fill="#2a5c24"/><circle cx="1027.8" cy="1878.9" r="4.4" fill="#5a9a45"/><circle cx="991.4" cy="1887.1" r="5.4" fill="#468538"/><circle cx="983.1" cy="1853.9" r="4.2" fill="#85bf66"/><circle cx="1014.0" cy="1906.1" r="4.6" fill="#467f36"/><circle cx="1036.4" cy="1892.5" r="5.5" fill="#4b8b3a"/><circle cx="988.4" cy="1855.0" r="2.7" fill="#85bf66"/><circle cx="974.5" cy="1923.0" r="4.0" fill="#2a5c24"/><circle cx="1001.0" cy="1932.8" r="6.5" fill="#2e6427"/><circle cx="1007.8" cy="1881.9" r="2.8" fill="#4b8b3a"/><circle cx="911.1" cy="1888.6" r="3.1" fill="#78b35a"/><circle cx="964.6" cy="1910.8" r="6.5" fill="#3f7d32"/><circle cx="1047.0" cy="1893.2" r="3.7" fill="#4b8b3a"/><circle cx="967.8" cy="1925.5" r="5.4" fill="#2e6427"/><circle cx="1000.0" cy="1856.5" r="6.5" fill="#78b35a"/><circle cx="1027.7" cy="1899.5" r="5.6" fill="#3f7d32"/><circle cx="1036.3" cy="1891.4" r="6.3" fill="#3a7530"/><circle cx="986.3" cy="1948.1" r="3.4" fill="#2a5c24"/><circle cx="988.7" cy="1920.8" r="4.1" fill="#2e6427"/><circle cx="997.0" cy="1929.7" r="4.5" fill="#356f2b"/><circle cx="927.4" cy="1912.6" r="3.2" fill="#4f8f3c"/><circle cx="941.0" cy="1924.7" r="3.5" fill="#4b8b3a"/><circle cx="968.1" cy="1926.7" r="5.1" fill="#356f2b"/><circle cx="1035.6" cy="1901.9" r="5.7" fill="#356f2b"/><circle cx="950.6" cy="1905.4" r="4.3" fill="#64a24c"/><circle cx="960.5" cy="1912.9" r="2.9" fill="#3f7d32"/><circle cx="929.3" cy="1921.1" r="5.4" fill="#4b8b3a"/><circle cx="957.6" cy="1869.7" r="4.5" fill="#6aaa50"/><circle cx="971.9" cy="1868.6" r="4.9" fill="#85bf66"/><circle cx="1012.1" cy="1913.2" r="5.4" fill="#3a7530"/><circle cx="952.3" cy="1843.6" r="2.9" fill="#6aaa50"/><circle cx="1009.6" cy="1908.5" r="3.3" fill="#3f7d32"/><circle cx="1022.2" cy="1849.4" r="2.7" fill="#5a9a45"/><circle cx="983.3" cy="1952.8" r="5.7" fill="#2e6427"/><circle cx="990.7" cy="1929.3" r="6.1" fill="#2a5c24"/><circle cx="1032.9" cy="1866.7" r="3.0" fill="#64a24c"/><circle cx="1006.1" cy="1853.4" r="5.8" fill="#85bf66"/><circle cx="1021.6" cy="1851.5" r="4.1" fill="#5a9a45"/><circle cx="1009.3" cy="1873.7" r="5.6" fill="#468538"/><circle cx="991.9" cy="1887.4" r="4.1" fill="#468538"/><circle cx="991.3" cy="1858.8" r="3.1" fill="#4f8f3c"/><circle cx="993.4" cy="1887.1" r="6.1" fill="#4f8f3c"/><circle cx="1015.6" cy="1884.2" r="2.7" fill="#5a9a45"/><circle cx="987.2" cy="1874.4" r="3.8" fill="#85bf66"/><circle cx="964.1" cy="1939.6" r="2.7" fill="#2a5c24"/><circle cx="917.2" cy="1860.3" r="4.3" fill="#6aaa50"/><circle cx="939.0" cy="1888.9" r="5.9" fill="#5e9f47"/><circle cx="978.1" cy="1905.5" r="5.4" fill="#4b8b3a"/><circle cx="1022.8" cy="1883.9" r="3.1" fill="#3f7d32"/><circle cx="1024.7" cy="1917.6" r="6.2" fill="#2a5c24"/><circle cx="999.6" cy="1894.2" r="3.2" fill="#4f8f3c"/><circle cx="965.5" cy="1848.9" r="5.7" fill="#78b35a"/><circle cx="970.9" cy="1951.3" r="2.8" fill="#2e6427"/><circle cx="918.1" cy="1897.9" r="2.6" fill="#64a24c"/><circle cx="1012.3" cy="1874.4" r="5.8" fill="#64a24c"/><circle cx="1030.9" cy="1920.3" r="4.7" fill="#467f36"/><circle cx="996.8" cy="1863.1" r="4.5" fill="#4f8f3c"/><circle cx="1002.8" cy="1937.6" r="4.7" fill="#356f2b"/><circle cx="962.8" cy="1952.3" r="5.5" fill="#356f2b"/><circle cx="990.0" cy="1886.6" r="6.0" fill="#467f36"/><circle cx="935.2" cy="1920.7" r="5.1" fill="#5a9a45"/><circle cx="960.2" cy="1933.5" r="6.1" fill="#2a5c24"/><circle cx="1028.2" cy="1916.9" r="6.2" fill="#2e6427"/><circle cx="1026.3" cy="1878.5" r="5.4" fill="#4f8f3c"/><circle cx="931.9" cy="1884.1" r="4.3" fill="#85bf66"/><circle cx="999.5" cy="1899.2" r="4.5" fill="#467f36"/><circle cx="973.3" cy="1929.0" r="5.1" fill="#4b8b3a"/><circle cx="974.0" cy="1877.4" r="5.8" fill="#64a24c"/><circle cx="920.5" cy="1928.4" r="4.2" fill="#467f36"/><circle cx="981.4" cy="1904.0" r="5.3" fill="#5a9a45"/><circle cx="999.3" cy="1884.6" r="4.1" fill="#5a9a45"/><circle cx="1030.0" cy="1923.4" r="5.9" fill="#2a5c24"/><circle cx="993.9" cy="1851.4" r="5.7" fill="#85bf66"/><circle cx="1011.8" cy="1897.2" r="6.4" fill="#3a7530"/><circle cx="956.0" cy="1846.0" r="5.2" fill="#5e9f47"/><circle cx="1028.6" cy="1885.3" r="6.4" fill="#5a9a45"/><circle cx="923.9" cy="1922.7" r="4.7" fill="#3f7d32"/><circle cx="1005.3" cy="1885.1" r="3.5" fill="#3a7530"/><circle cx="1018.5" cy="1891.7" r="4.7" fill="#4f8f3c"/><circle cx="965.2" cy="1933.2" r="5.7" fill="#2e6427"/><circle cx="965.6" cy="1947.4" r="5.3" fill="#2a5c24"/><circle cx="1009.6" cy="1876.1" r="3.8" fill="#64a24c"/><circle cx="995.3" cy="1908.6" r="5.6" fill="#3a7530"/><circle cx="1011.1" cy="1847.4" r="6.3" fill="#5e9f47"/><circle cx="1010.5" cy="1898.7" r="4.6" fill="#467f36"/><circle cx="968.4" cy="1862.1" r="6.1" fill="#5e9f47"/><circle cx="914.0" cy="1873.4" r="3.6" fill="#5e9f47"/><circle cx="1030.1" cy="1922.4" r="3.0" fill="#356f2b"/><circle cx="1011.0" cy="1861.9" r="5.3" fill="#6aaa50"/><circle cx="947.0" cy="1927.3" r="6.3" fill="#3f7d32"/><circle cx="1010.1" cy="1890.5" r="4.8" fill="#3a7530"/><circle cx="1041.2" cy="1908.9" r="2.7" fill="#3a7530"/><circle cx="979.7" cy="1912.5" r="5.6" fill="#467f36"/><circle cx="966.2" cy="1886.2" r="4.0" fill="#4f8f3c"/><circle cx="1024.2" cy="1862.0" r="3.1" fill="#64a24c"/><circle cx="1028.5" cy="1931.9" r="5.2" fill="#356f2b"/><circle cx="963.3" cy="1949.8" r="2.6" fill="#2e6427"/><circle cx="933.0" cy="1863.5" r="5.7" fill="#78b35a"/><circle cx="1012.5" cy="1930.2" r="6.1" fill="#2a5c24"/><circle cx="1017.4" cy="1914.5" r="6.4" fill="#3a7530"/><circle cx="1035.2" cy="1921.5" r="5.8" fill="#2a5c24"/><circle cx="970.4" cy="1938.7" r="6.2" fill="#2e6427"/><circle cx="960.6" cy="1903.5" r="4.5" fill="#3f7d32"/><circle cx="1012.1" cy="1891.9" r="2.5" fill="#3f7d32"/><circle cx="923.0" cy="1927.5" r="5.7" fill="#4b8b3a"/><circle cx="944.8" cy="1907.2" r="3.7" fill="#4b8b3a"/><circle cx="1021.3" cy="1911.9" r="6.0" fill="#2a5c24"/><circle cx="1027.9" cy="1923.1" r="3.4" fill="#356f2b"/><circle cx="970.8" cy="1886.3" r="4.2" fill="#5a9a45"/><circle cx="1029.4" cy="1876.1" r="4.3" fill="#64a24c"/><circle cx="947.4" cy="1925.1" r="3.8" fill="#2a5c24"/><circle cx="1019.7" cy="1872.9" r="4.5" fill="#5a9a45"/><circle cx="934.6" cy="1925.6" r="3.5" fill="#4f8f3c"/><circle cx="931.7" cy="1895.5" r="6.1" fill="#5a9a45"/><circle cx="953.7" cy="1860.0" r="3.2" fill="#85bf66"/><circle cx="925.9" cy="1927.0" r="4.5" fill="#467f36"/><circle cx="991.8" cy="1900.4" r="4.4" fill="#4b8b3a"/><circle cx="907.6" cy="1877.6" r="4.9" fill="#85bf66"/><circle cx="954.0" cy="1847.4" r="6.3" fill="#6aaa50"/><circle cx="958.1" cy="1850.7" r="2.5" fill="#5e9f47"/><circle cx="1043.2" cy="1901.5" r="5.0" fill="#3f7d32"/><circle cx="1039.0" cy="1907.9" r="5.2" fill="#2a5c24"/><circle cx="981.8" cy="1885.9" r="6.3" fill="#64a24c"/><circle cx="964.1" cy="1921.0" r="2.9" fill="#3a7530"/><circle cx="1002.4" cy="1929.3" r="5.0" fill="#4b8b3a"/><circle cx="989.2" cy="1843.6" r="4.7" fill="#5e9f47"/><circle cx="918.5" cy="1874.5" r="4.8" fill="#5a9a45"/><circle cx="954.3" cy="1854.0" r="5.2" fill="#85bf66"/><circle cx="981.5" cy="1862.6" r="3.6" fill="#4f8f3c"/><circle cx="977.1" cy="1947.0" r="2.6" fill="#2a5c24"/><circle cx="1012.6" cy="1928.6" r="5.8" fill="#356f2b"/><circle cx="973.2" cy="1880.2" r="5.7" fill="#4f8f3c"/><circle cx="993.6" cy="1946.7" r="4.9" fill="#2a5c24"/><circle cx="1037.1" cy="1917.6" r="6.2" fill="#4b8b3a"/><circle cx="937.3" cy="1873.6" r="6.3" fill="#5e9f47"/><circle cx="988.8" cy="1860.0" r="4.6" fill="#468538"/><circle cx="986.8" cy="1874.5" r="4.2" fill="#5e9f47"/><circle cx="986.5" cy="1866.8" r="5.0" fill="#5e9f47"/><circle cx="949.3" cy="1945.4" r="5.3" fill="#356f2b"/><circle cx="954.8" cy="1912.9" r="6.0" fill="#3a7530"/><circle cx="962.0" cy="1864.4" r="2.7" fill="#5e9f47"/><circle cx="990.9" cy="1935.5" r="5.2" fill="#4b8b3a"/><circle cx="919.3" cy="1876.8" r="3.4" fill="#78b35a"/><circle cx="935.8" cy="1842.9" r="5.3" fill="#6aaa50"/><circle cx="1020.6" cy="1906.0" r="5.6" fill="#3a7530"/><circle cx="988.7" cy="1847.3" r="5.9" fill="#85bf66"/><circle cx="1017.0" cy="1926.7" r="6.1" fill="#4b8b3a"/><circle cx="979.9" cy="1856.5" r="3.3" fill="#5e9f47"/><circle cx="991.1" cy="1942.4" r="4.0" fill="#356f2b"/><circle cx="931.0" cy="1845.6" r="4.7" fill="#78b35a"/><circle cx="929.5" cy="1924.9" r="6.4" fill="#3a7530"/><circle cx="978.8" cy="1921.2" r="6.0" fill="#2a5c24"/><circle cx="972.5" cy="1939.6" r="3.1" fill="#3a7530"/><circle cx="974.4" cy="1933.4" r="6.1" fill="#356f2b"/><circle cx="931.7" cy="1841.6" r="3.9" fill="#5e9f47"/><circle cx="1011.4" cy="1860.6" r="5.6" fill="#4f8f3c"/><circle cx="942.1" cy="1872.7" r="3.3" fill="#6aaa50"/><circle cx="948.2" cy="1922.8" r="6.0" fill="#2a5c24"/><circle cx="922.8" cy="1921.8" r="3.9" fill="#3f7d32"/><circle cx="1035.6" cy="1907.9" r="2.7" fill="#467f36"/><circle cx="1029.8" cy="1912.5" r="4.5" fill="#3a7530"/><circle cx="934.6" cy="1899.0" r="5.2" fill="#4f8f3c"/><circle cx="985.9" cy="1930.4" r="5.6" fill="#2a5c24"/><circle cx="1024.2" cy="1914.7" r="4.4" fill="#3f7d32"/><circle cx="926.1" cy="1887.2" r="5.5" fill="#85bf66"/><circle cx="938.6" cy="1905.8" r="4.1" fill="#5a9a45"/><circle cx="1003.8" cy="1904.5" r="4.0" fill="#4b8b3a"/><circle cx="975.3" cy="1899.3" r="6.3" fill="#467f36"/><circle cx="916.9" cy="1864.4" r="3.0" fill="#6aaa50"/><circle cx="925.2" cy="1865.5" r="5.7" fill="#85bf66"/><circle cx="946.7" cy="1871.0" r="3.1" fill="#85bf66"/><circle cx="1013.6" cy="1888.2" r="4.2" fill="#468538"/><circle cx="970.9" cy="1927.2" r="3.4" fill="#3a7530"/><circle cx="1022.3" cy="1933.0" r="6.1" fill="#2e6427"/><circle cx="1019.5" cy="1896.8" r="3.2" fill="#467f36"/><circle cx="1008.9" cy="1867.5" r="6.2" fill="#5e9f47"/><circle cx="1016.4" cy="1853.4" r="5.7" fill="#6aaa50"/><circle cx="916.3" cy="1866.5" r="2.9" fill="#85bf66"/><circle cx="1030.4" cy="1875.0" r="4.5" fill="#4f8f3c"/><circle cx="1014.4" cy="1887.3" r="3.2" fill="#5a9a45"/><circle cx="1007.7" cy="1854.6" r="2.6" fill="#468538"/><circle cx="1006.8" cy="1937.9" r="3.2" fill="#3a7530"/><circle cx="937.1" cy="1869.8" r="3.3" fill="#6aaa50"/><circle cx="961.4" cy="1929.7" r="4.5" fill="#3a7530"/><circle cx="987.2" cy="1865.0" r="4.5" fill="#468538"/><circle cx="962.9" cy="1922.6" r="5.6" fill="#356f2b"/><circle cx="1023.3" cy="1873.7" r="4.2" fill="#64a24c"/>
<ellipse cx="975" cy="2012" rx="106" ry="17" fill="#6d5f45" opacity="0.55"/><ellipse cx="874.6" cy="2012.6" rx="7.5" ry="2.8" transform="rotate(-12 874.6 2012.6)" fill="#bfa46a" stroke="#5a4b33" stroke-width="0.5"/><ellipse cx="1022.0" cy="2007.8" rx="10.7" ry="5.3" transform="rotate(-3 1022.0 2007.8)" fill="#9a9070" stroke="#5a4b33" stroke-width="0.5"/><ellipse cx="889.3" cy="2019.1" rx="7.1" ry="3.6" transform="rotate(-1 889.3 2019.1)" fill="#8c7448" stroke="#5a4b33" stroke-width="0.5"/><ellipse cx="1069.2" cy="2019.3" rx="10.9" ry="5.6" transform="rotate(-1 1069.2 2019.3)" fill="#b89a5c" stroke="#5a4b33" stroke-width="0.5"/><ellipse cx="947.8" cy="1990.6" rx="10.1" ry="4.8" transform="rotate(13 947.8 1990.6)" fill="#7e6a48" stroke="#5a4b33" stroke-width="0.5"/><ellipse cx="1008.0" cy="2006.7" rx="11.5" ry="4.9" transform="rotate(8 1008.0 2006.7)" fill="#8c7448" stroke="#5a4b33" stroke-width="0.5"/><ellipse cx="1002.6" cy="2018.9" rx="10.8" ry="4.3" transform="rotate(-14 1002.6 2018.9)" fill="#8c7448" stroke="#5a4b33" stroke-width="0.5"/><ellipse cx="992.1" cy="1999.4" rx="7.7" ry="3.6" transform="rotate(17 992.1 1999.4)" fill="#b89a5c" stroke="#5a4b33" stroke-width="0.5"/><ellipse cx="1018.5" cy="2023.6" rx="8.4" ry="3.3" transform="rotate(-2 1018.5 2023.6)" fill="#d4b777" stroke="#5a4b33" stroke-width="0.5"/><ellipse cx="1062.7" cy="2021.5" rx="8.9" ry="4.3" transform="rotate(9 1062.7 2021.5)" fill="#6f6a5a" stroke="#5a4b33" stroke-width="0.5"/><ellipse cx="938.0" cy="2019.7" rx="8.4" ry="4.2" transform="rotate(9 938.0 2019.7)" fill="#d4b777" stroke="#5a4b33" stroke-width="0.5"/><ellipse cx="989.5" cy="1998.7" rx="11.0" ry="3.9" transform="rotate(-18 989.5 1998.7)" fill="#6f6a5a" stroke="#5a4b33" stroke-width="0.5"/><ellipse cx="911.1" cy="2018.3" rx="8.3" ry="4.5" transform="rotate(15 911.1 2018.3)" fill="#c9ab6b" stroke="#5a4b33" stroke-width="0.5"/><ellipse cx="964.0" cy="2011.0" rx="10.3" ry="5.7" transform="rotate(23 964.0 2011.0)" fill="#8c7448" stroke="#5a4b33" stroke-width="0.5"/><ellipse cx="913.1" cy="2009.3" rx="7.9" ry="2.8" transform="rotate(-1 913.1 2009.3)" fill="#b89a5c" stroke="#5a4b33" stroke-width="0.5"/><ellipse cx="908.9" cy="2004.3" rx="8.7" ry="4.6" transform="rotate(1 908.9 2004.3)" fill="#a08650" stroke="#5a4b33" stroke-width="0.5"/><ellipse cx="953.1" cy="2018.2" rx="11.5" ry="4.3" transform="rotate(22 953.1 2018.2)" fill="#bfa46a" stroke="#5a4b33" stroke-width="0.5"/><ellipse cx="898.8" cy="2011.4" rx="10.1" ry="5.8" transform="rotate(-6 898.8 2011.4)" fill="#9a9070" stroke="#5a4b33" stroke-width="0.5"/><ellipse cx="1036.1" cy="2022.9" rx="9.3" ry="4.8" transform="rotate(-15 1036.1 2022.9)" fill="#c9ab6b" stroke="#5a4b33" stroke-width="0.5"/><ellipse cx="915.9" cy="2022.2" rx="11.9" ry="7.1" transform="rotate(2 915.9 2022.2)" fill="#7e6a48" stroke="#5a4b33" stroke-width="0.5"/><ellipse cx="925.9" cy="2015.9" rx="7.1" ry="3.4" transform="rotate(-23 925.9 2015.9)" fill="#7e6a48" stroke="#5a4b33" stroke-width="0.5"/><ellipse cx="985.4" cy="2017.2" rx="9.4" ry="3.4" transform="rotate(15 985.4 2017.2)" fill="#c9ab6b" stroke="#5a4b33" stroke-width="0.5"/><ellipse cx="960.4" cy="1983.9" rx="9.7" ry="5.0" transform="rotate(21 960.4 1983.9)" fill="#6f6a5a" stroke="#5a4b33" stroke-width="0.5"/><ellipse cx="902.6" cy="2012.3" rx="10.6" ry="5.9" transform="rotate(9 902.6 2012.3)" fill="#6f6a5a" stroke="#5a4b33" stroke-width="0.5"/><ellipse cx="991.3" cy="2014.2" rx="10.8" ry="5.0" transform="rotate(3 991.3 2014.2)" fill="#9a9070" stroke="#5a4b33" stroke-width="0.5"/><ellipse cx="1003.6" cy="2008.9" rx="11.2" ry="5.5" transform="rotate(-9 1003.6 2008.9)" fill="#bfa46a" stroke="#5a4b33" stroke-width="0.5"/><ellipse cx="1068.7" cy="2021.9" rx="10.0" ry="4.3" transform="rotate(-18 1068.7 2021.9)" fill="#9a9070" stroke="#5a4b33" stroke-width="0.5"/><ellipse cx="980.0" cy="2008.7" rx="8.0" ry="3.9" transform="rotate(0 980.0 2008.7)" fill="#bfa46a" stroke="#5a4b33" stroke-width="0.5"/><ellipse cx="877.7" cy="2022.8" rx="9.6" ry="4.3" transform="rotate(15 877.7 2022.8)" fill="#c9ab6b" stroke="#5a4b33" stroke-width="0.5"/><ellipse cx="973.2" cy="2013.7" rx="7.3" ry="3.6" transform="rotate(-4 973.2 2013.7)" fill="#bfa46a" stroke="#5a4b33" stroke-width="0.5"/><ellipse cx="927.5" cy="2007.0" rx="7.6" ry="3.5" transform="rotate(16 927.5 2007.0)" fill="#6f6a5a" stroke="#5a4b33" stroke-width="0.5"/><ellipse cx="980.1" cy="1988.7" rx="9.1" ry="3.3" transform="rotate(-12 980.1 1988.7)" fill="#b89a5c" stroke="#5a4b33" stroke-width="0.5"/><ellipse cx="879.3" cy="2011.6" rx="7.1" ry="3.0" transform="rotate(11 879.3 2011.6)" fill="#8c7448" stroke="#5a4b33" stroke-width="0.5"/><ellipse cx="999.7" cy="1993.0" rx="10.7" ry="4.1" transform="rotate(1 999.7 1993.0)" fill="#d4b777" stroke="#5a4b33" stroke-width="0.5"/><ellipse cx="1019.8" cy="2016.4" rx="11.4" ry="4.1" transform="rotate(7 1019.8 2016.4)" fill="#9a9070" stroke="#5a4b33" stroke-width="0.5"/><ellipse cx="998.9" cy="2008.9" rx="11.3" ry="5.5" transform="rotate(-14 998.9 2008.9)" fill="#8c7448" stroke="#5a4b33" stroke-width="0.5"/><ellipse cx="1047.4" cy="2017.5" rx="11.3" ry="4.6" transform="rotate(12 1047.4 2017.5)" fill="#7e6a48" stroke="#5a4b33" stroke-width="0.5"/><ellipse cx="1058.0" cy="2016.2" rx="8.6" ry="5.0" transform="rotate(-14 1058.0 2016.2)" fill="#8c7448" stroke="#5a4b33" stroke-width="0.5"/><ellipse cx="1054.8" cy="2013.1" rx="8.2" ry="4.4" transform="rotate(-12 1054.8 2013.1)" fill="#c9ab6b" stroke="#5a4b33" stroke-width="0.5"/><ellipse cx="961.6" cy="2025.1" rx="9.7" ry="5.1" transform="rotate(-15 961.6 2025.1)" fill="#b89a5c" stroke="#5a4b33" stroke-width="0.5"/><ellipse cx="891.8" cy="2015.3" rx="8.8" ry="4.9" transform="rotate(-7 891.8 2015.3)" fill="#9a9070" stroke="#5a4b33" stroke-width="0.5"/><ellipse cx="1002.7" cy="2002.4" rx="12.0" ry="6.7" transform="rotate(15 1002.7 2002.4)" fill="#6f6a5a" stroke="#5a4b33" stroke-width="0.5"/><ellipse cx="893.9" cy="2003.6" rx="9.8" ry="4.7" transform="rotate(3 893.9 2003.6)" fill="#a08650" stroke="#5a4b33" stroke-width="0.5"/><ellipse cx="911.1" cy="1999.1" rx="7.9" ry="3.1" transform="rotate(-11 911.1 1999.1)" fill="#c9ab6b" stroke="#5a4b33" stroke-width="0.5"/><ellipse cx="991.4" cy="1992.1" rx="10.4" ry="3.8" transform="rotate(-20 991.4 1992.1)" fill="#bfa46a" stroke="#5a4b33" stroke-width="0.5"/><ellipse cx="968.2" cy="2005.7" rx="9.2" ry="4.6" transform="rotate(-24 968.2 2005.7)" fill="#b89a5c" stroke="#5a4b33" stroke-width="0.5"/><ellipse cx="1045.9" cy="2010.2" rx="9.3" ry="5.0" transform="rotate(-5 1045.9 2010.2)" fill="#8c7448" stroke="#5a4b33" stroke-width="0.5"/><ellipse cx="996.6" cy="1991.8" rx="11.0" ry="4.7" transform="rotate(-21 996.6 1991.8)" fill="#bfa46a" stroke="#5a4b33" stroke-width="0.5"/><ellipse cx="989.4" cy="1993.9" rx="9.9" ry="4.3" transform="rotate(13 989.4 1993.9)" fill="#d4b777" stroke="#5a4b33" stroke-width="0.5"/><ellipse cx="1059.7" cy="2020.6" rx="10.9" ry="6.0" transform="rotate(-5 1059.7 2020.6)" fill="#7e6a48" stroke="#5a4b33" stroke-width="0.5"/><ellipse cx="1053.2" cy="2019.4" rx="10.8" ry="5.9" transform="rotate(-5 1053.2 2019.4)" fill="#a08650" stroke="#5a4b33" stroke-width="0.5"/><ellipse cx="886.5" cy="2012.1" rx="9.3" ry="3.3" transform="rotate(-7 886.5 2012.1)" fill="#b89a5c" stroke="#5a4b33" stroke-width="0.5"/><ellipse cx="919.8" cy="2023.7" rx="10.3" ry="4.5" transform="rotate(8 919.8 2023.7)" fill="#a08650" stroke="#5a4b33" stroke-width="0.5"/><ellipse cx="981.8" cy="2001.0" rx="12.0" ry="6.1" transform="rotate(10 981.8 2001.0)" fill="#bfa46a" stroke="#5a4b33" stroke-width="0.5"/><ellipse cx="1073.9" cy="2021.4" rx="10.1" ry="5.4" transform="rotate(-12 1073.9 2021.4)" fill="#bfa46a" stroke="#5a4b33" stroke-width="0.5"/><ellipse cx="976.0" cy="2016.9" rx="10.2" ry="3.6" transform="rotate(-12 976.0 2016.9)" fill="#d4b777" stroke="#5a4b33" stroke-width="0.5"/><ellipse cx="1058.6" cy="2018.6" rx="9.5" ry="5.6" transform="rotate(3 1058.6 2018.6)" fill="#c9ab6b" stroke="#5a4b33" stroke-width="0.5"/><ellipse cx="1003.4" cy="2019.1" rx="7.4" ry="3.7" transform="rotate(13 1003.4 2019.1)" fill="#b89a5c" stroke="#5a4b33" stroke-width="0.5"/><ellipse cx="951.6" cy="2024.6" rx="8.9" ry="5.3" transform="rotate(18 951.6 2024.6)" fill="#9a9070" stroke="#5a4b33" stroke-width="0.5"/><ellipse cx="997.9" cy="1990.7" rx="11.7" ry="5.3" transform="rotate(1 997.9 1990.7)" fill="#d4b777" stroke="#5a4b33" stroke-width="0.5"/><ellipse cx="947.3" cy="1996.7" rx="10.3" ry="5.0" transform="rotate(-11 947.3 1996.7)" fill="#d4b777" stroke="#5a4b33" stroke-width="0.5"/><ellipse cx="877.5" cy="2020.3" rx="9.9" ry="5.0" transform="rotate(-5 877.5 2020.3)" fill="#bfa46a" stroke="#5a4b33" stroke-width="0.5"/><ellipse cx="882.9" cy="2012.8" rx="9.0" ry="4.5" transform="rotate(11 882.9 2012.8)" fill="#7e6a48" stroke="#5a4b33" stroke-width="0.5"/><ellipse cx="887.1" cy="2022.1" rx="9.1" ry="4.3" transform="rotate(24 887.1 2022.1)" fill="#8c7448" stroke="#5a4b33" stroke-width="0.5"/><ellipse cx="881.4" cy="2010.0" rx="11.1" ry="6.4" transform="rotate(-18 881.4 2010.0)" fill="#8c7448" stroke="#5a4b33" stroke-width="0.5"/><ellipse cx="996.3" cy="1992.5" rx="10.1" ry="4.7" transform="rotate(-15 996.3 1992.5)" fill="#b89a5c" stroke="#5a4b33" stroke-width="0.5"/><ellipse cx="945.5" cy="1991.5" rx="8.8" ry="3.4" transform="rotate(-4 945.5 1991.5)" fill="#d4b777" stroke="#5a4b33" stroke-width="0.5"/><ellipse cx="1003.8" cy="2014.6" rx="8.8" ry="4.7" transform="rotate(16 1003.8 2014.6)" fill="#a08650" stroke="#5a4b33" stroke-width="0.5"/><ellipse cx="1068.2" cy="2021.3" rx="8.2" ry="3.1" transform="rotate(20 1068.2 2021.3)" fill="#9a9070" stroke="#5a4b33" stroke-width="0.5"/><ellipse cx="1000.7" cy="2002.6" rx="8.4" ry="4.4" transform="rotate(3 1000.7 2002.6)" fill="#8c7448" stroke="#5a4b33" stroke-width="0.5"/><ellipse cx="1002.4" cy="2017.1" rx="7.9" ry="3.3" transform="rotate(24 1002.4 2017.1)" fill="#8c7448" stroke="#5a4b33" stroke-width="0.5"/><ellipse cx="1053.0" cy="2011.1" rx="7.3" ry="3.1" transform="rotate(-4 1053.0 2011.1)" fill="#b89a5c" stroke="#5a4b33" stroke-width="0.5"/><ellipse cx="893.1" cy="2014.5" rx="7.4" ry="2.7" transform="rotate(9 893.1 2014.5)" fill="#9a9070" stroke="#5a4b33" stroke-width="0.5"/><ellipse cx="920.4" cy="2025.0" rx="9.4" ry="4.1" transform="rotate(-8 920.4 2025.0)" fill="#6f6a5a" stroke="#5a4b33" stroke-width="0.5"/><ellipse cx="1025.4" cy="2020.4" rx="7.4" ry="2.8" transform="rotate(15 1025.4 2020.4)" fill="#8c7448" stroke="#5a4b33" stroke-width="0.5"/><ellipse cx="963.5" cy="2016.3" rx="9.0" ry="3.5" transform="rotate(-17 963.5 2016.3)" fill="#7e6a48" stroke="#5a4b33" stroke-width="0.5"/><ellipse cx="931.9" cy="2017.1" rx="11.1" ry="4.4" transform="rotate(8 931.9 2017.1)" fill="#c9ab6b" stroke="#5a4b33" stroke-width="0.5"/><ellipse cx="967.2" cy="1996.9" rx="9.7" ry="4.5" transform="rotate(3 967.2 1996.9)" fill="#6f6a5a" stroke="#5a4b33" stroke-width="0.5"/><ellipse cx="933.6" cy="2017.7" rx="7.4" ry="3.0" transform="rotate(8 933.6 2017.7)" fill="#c9ab6b" stroke="#5a4b33" stroke-width="0.5"/><ellipse cx="1015.2" cy="2009.6" rx="10.8" ry="4.7" transform="rotate(19 1015.2 2009.6)" fill="#8c7448" stroke="#5a4b33" stroke-width="0.5"/><ellipse cx="945.7" cy="2015.4" rx="8.8" ry="3.4" transform="rotate(10 945.7 2015.4)" fill="#d4b777" stroke="#5a4b33" stroke-width="0.5"/><ellipse cx="962.2" cy="2018.9" rx="8.5" ry="3.7" transform="rotate(-5 962.2 2018.9)" fill="#9a9070" stroke="#5a4b33" stroke-width="0.5"/><ellipse cx="923.2" cy="2003.8" rx="8.8" ry="3.9" transform="rotate(-5 923.2 2003.8)" fill="#bfa46a" stroke="#5a4b33" stroke-width="0.5"/><ellipse cx="1036.0" cy="2018.5" rx="8.8" ry="4.0" transform="rotate(-17 1036.0 2018.5)" fill="#a08650" stroke="#5a4b33" stroke-width="0.5"/><ellipse cx="908.4" cy="2018.1" rx="11.4" ry="4.8" transform="rotate(-24 908.4 2018.1)" fill="#9a9070" stroke="#5a4b33" stroke-width="0.5"/><ellipse cx="883.9" cy="2009.9" rx="8.5" ry="3.0" transform="rotate(17 883.9 2009.9)" fill="#bfa46a" stroke="#5a4b33" stroke-width="0.5"/><ellipse cx="885.2" cy="2016.0" rx="10.9" ry="4.1" transform="rotate(-21 885.2 2016.0)" fill="#c9ab6b" stroke="#5a4b33" stroke-width="0.5"/><ellipse cx="1057.2" cy="2013.6" rx="10.2" ry="3.9" transform="rotate(12 1057.2 2013.6)" fill="#bfa46a" stroke="#5a4b33" stroke-width="0.5"/><ellipse cx="922.6" cy="1999.1" rx="10.8" ry="5.2" transform="rotate(13 922.6 1999.1)" fill="#bfa46a" stroke="#5a4b33" stroke-width="0.5"/><ellipse cx="944.2" cy="2018.9" rx="8.7" ry="3.3" transform="rotate(-1 944.2 2018.9)" fill="#c9ab6b" stroke="#5a4b33" stroke-width="0.5"/><ellipse cx="1017.9" cy="2022.6" rx="9.1" ry="5.0" transform="rotate(8 1017.9 2022.6)" fill="#b89a5c" stroke="#5a4b33" stroke-width="0.5"/><ellipse cx="1038.0" cy="2020.6" rx="11.4" ry="6.7" transform="rotate(7 1038.0 2020.6)" fill="#9a9070" stroke="#5a4b33" stroke-width="0.5"/><ellipse cx="946.6" cy="1985.2" rx="7.5" ry="4.4" transform="rotate(21 946.6 1985.2)" fill="#8c7448" stroke="#5a4b33" stroke-width="0.5"/><ellipse cx="1024.7" cy="2024.5" rx="8.9" ry="3.5" transform="rotate(-15 1024.7 2024.5)" fill="#bfa46a" stroke="#5a4b33" stroke-width="0.5"/><ellipse cx="981.0" cy="1996.0" rx="11.4" ry="5.3" transform="rotate(12 981.0 1996.0)" fill="#d4b777" stroke="#5a4b33" stroke-width="0.5"/><ellipse cx="1005.5" cy="2018.0" rx="7.9" ry="2.9" transform="rotate(-2 1005.5 2018.0)" fill="#6f6a5a" stroke="#5a4b33" stroke-width="0.5"/><ellipse cx="1059.3" cy="2014.1" rx="7.5" ry="3.0" transform="rotate(-14 1059.3 2014.1)" fill="#8c7448" stroke="#5a4b33" stroke-width="0.5"/><ellipse cx="995.6" cy="2006.0" rx="9.5" ry="4.4" transform="rotate(20 995.6 2006.0)" fill="#bfa46a" stroke="#5a4b33" stroke-width="0.5"/><ellipse cx="907.5" cy="2018.1" rx="8.6" ry="4.2" transform="rotate(16 907.5 2018.1)" fill="#6f6a5a" stroke="#5a4b33" stroke-width="0.5"/><ellipse cx="1047.8" cy="2015.6" rx="9.0" ry="5.3" transform="rotate(8 1047.8 2015.6)" fill="#c9ab6b" stroke="#5a4b33" stroke-width="0.5"/><ellipse cx="971.4" cy="1992.5" rx="7.2" ry="4.3" transform="rotate(15 971.4 1992.5)" fill="#bfa46a" stroke="#5a4b33" stroke-width="0.5"/><ellipse cx="1073.1" cy="2021.9" rx="10.9" ry="5.9" transform="rotate(-22 1073.1 2021.9)" fill="#8c7448" stroke="#5a4b33" stroke-width="0.5"/><ellipse cx="1055.8" cy="2021.7" rx="11.5" ry="5.3" transform="rotate(-13 1055.8 2021.7)" fill="#bfa46a" stroke="#5a4b33" stroke-width="0.5"/><ellipse cx="996.9" cy="1994.2" rx="7.8" ry="3.4" transform="rotate(-12 996.9 1994.2)" fill="#9a9070" stroke="#5a4b33" stroke-width="0.5"/><ellipse cx="899.0" cy="2018.2" rx="10.1" ry="4.8" transform="rotate(-22 899.0 2018.2)" fill="#a08650" stroke="#5a4b33" stroke-width="0.5"/><ellipse cx="872.3" cy="2021.2" rx="11.2" ry="6.2" transform="rotate(-21 872.3 2021.2)" fill="#d4b777" stroke="#5a4b33" stroke-width="0.5"/><ellipse cx="998.7" cy="2008.5" rx="11.4" ry="6.0" transform="rotate(-21 998.7 2008.5)" fill="#9a9070" stroke="#5a4b33" stroke-width="0.5"/><ellipse cx="1048.6" cy="2013.0" rx="10.9" ry="5.0" transform="rotate(21 1048.6 2013.0)" fill="#c9ab6b" stroke="#5a4b33" stroke-width="0.5"/><ellipse cx="1033.0" cy="2011.5" rx="7.2" ry="3.3" transform="rotate(-0 1033.0 2011.5)" fill="#d4b777" stroke="#5a4b33" stroke-width="0.5"/><ellipse cx="937.1" cy="2003.1" rx="9.8" ry="5.9" transform="rotate(8 937.1 2003.1)" fill="#c9ab6b" stroke="#5a4b33" stroke-width="0.5"/><ellipse cx="1032" cy="2018" rx="13" ry="10" fill="#d3b070" stroke="#6a5535" stroke-width="0.6"/><ellipse cx="955" cy="1995" rx="12" ry="9" fill="#6e8a5a" stroke="#40502f" stroke-width="0.6"/>
</svg>

<!-- ===== GROWING MOMENTUM ===== -->
<div class="a c b blue" style="left:0;width:1240px;top:1451.1px;font-size:25px;line-height:30px;">Growing momentum in Hong Kong</div>
<div class="a" style="left:71px;top:1488.8px;width:1098px;font-size:16.9px;line-height:28.4px;color:#484848;text-align:justify;text-align-last:left;">In recent years, high-net-worth investors in Hong Kong have increasingly engaged in more strategic, measurable and purpose-driven approaches to capital deployment, complementing their traditional philanthropy.</div>
<div class="a b nw" style="left:71px;top:1580.2px;font-size:16.6px;line-height:20px;color:#1e9b57;">In conversation with industry leaders</div>
<div class="a i" style="left:71px;top:1605px;width:443px;font-size:16.6px;line-height:29px;color:#484848;"><span class="jl"><b style="color:#1a1a1a">Hong Kong can transform private wealth into a powerful</b></span><span class="jl" style="letter-spacing:0.357px"><b style="color:#1a1a1a">catalyst for regional impact</b> — setting a benchmark for</span><span class="jl" style="letter-spacing:1.349px">how capital can be mobilised to address pressing</span>challenges <b style="color:#1a1a1a">locally, across Asia, and globally</b>.</div>

<!-- blue quote box -->
<svg class="a" style="left:940px;top:1720px" width="56" height="36" viewBox="940 1720 56 36"><path d="M944 1720 L982 1720 L988 1751.5 Z" fill="#d4e9f1"/></svg>
<div class="a" style="left:547px;top:1587px;width:618px;height:138px;border-radius:9px;background:#d4e9f1;"></div>
<div class="a nw" style="left:562px;top:1595.1px;font-size:16.6px;line-height:25.3px;color:#484848;"><b style="color:#1a1a1a">Investors in Hong Kong are increasingly focused on impact returns.</b> Family<br>offices and wealth owners, particularly next-generation, are increasingly<br>aligning their capital with initiatives that drive systemic change and long-term<br>value creation. They adopt a holistic approach, targeting a diverse range of<br>themes in their capital deployment strategies.</div>

<!-- green quote box -->
<svg class="a" style="left:270px;top:1890px" width="70" height="42" viewBox="270 1890 70 42"><path d="M286 1890 L335.6 1890 L274.1 1927.5 Z" fill="#a3d9c4"/></svg>
<div class="a" style="left:71px;top:1752px;width:730px;height:145px;border-radius:12px;background:linear-gradient(100deg,#a7dbc2 0%,#a3d9c4 50%,#addfcd 80%,#bde5da 100%);"></div>
<div class="a nw" style="left:87.6px;top:1763.1px;font-size:16.7px;line-height:25px;color:#484848;"><b style="color:#1a1a1a">We can leverage Hong Kong’s existing track record and talent base in green finance,<br>ESG, and fintech to apply to topics such as blended finance and catalytic capital, which<br>are gaining traction and importance in the region.</b> International and regionals platforms<br>enable more capacity-building opportunities for asset owners, paired with pilot projects that<br>mobilise private philanthropy and the public sector.</div>

<!-- ===== STORIES ===== -->
<div class="a c b blue" style="left:0;width:1240px;top:2029.6px;font-size:25px;line-height:38.2px;">Moving beyond conceptual groundwork:<br>Stories of success from Hong Kong’s impact journey</div>
<div class="a c" style="left:0;width:1240px;top:2108.7px;font-size:21.17px;line-height:26px;color:#505050;">A closer look at selected local initiatives in Hong Kong and their on-the-ground impact</div>

<div class="a card" style="left:72px;top:2155.5px;width:1097px;height:190px;background:#3659a6;"><div class="in" style="background:linear-gradient(180deg,#2b2e7c 0%,#2f4290 35%,#3559a6 70%,#3659a6 100%);"></div></div>
<div class="a card" style="left:71.5px;top:2358.3px;width:1097.5px;height:210px;background:#3a9cc6;"><div class="in" style="background:linear-gradient(180deg,#2f82a3 0%,#3490b5 40%,#3b9cc6 70%,#3a9cc6 100%);"></div></div>
<div class="a card" style="left:71.5px;top:2585.5px;width:1097.5px;height:159px;background:#39b886;"><div class="in" style="background:linear-gradient(180deg,#2d976d 0%,#33a87a 45%,#39b886 75%,#39b886 100%);"></div></div>

<svg class="a" style="left:0;top:2720px" width="1240" height="26" viewBox="0 2720 1240 26"><circle cx="85.2" cy="2733.3" r="2.5" fill="#6fd3a6" fill-opacity="0.35"/><circle cx="108.0" cy="2733.3" r="3.0" fill="#6fd3a6" fill-opacity="0.35"/><circle cx="130.8" cy="2733.3" r="3.5" fill="#6fd3a6" fill-opacity="0.35"/><circle cx="153.5" cy="2733.3" r="3.9" fill="#6fd3a6" fill-opacity="0.35"/><circle cx="176.2" cy="2733.3" r="4.4" fill="#6fd3a6" fill-opacity="0.35"/><circle cx="199.0" cy="2733.3" r="4.9" fill="#6fd3a6" fill-opacity="0.35"/><circle cx="221.8" cy="2733.3" r="5.4" fill="#6fd3a6" fill-opacity="0.35"/><circle cx="244.5" cy="2733.3" r="5.8" fill="#6fd3a6" fill-opacity="0.35"/><circle cx="267.2" cy="2733.3" r="6.3" fill="#6fd3a6" fill-opacity="0.35"/><circle cx="290.0" cy="2733.3" r="6.8" fill="#6fd3a6" fill-opacity="0.35"/><circle cx="312.8" cy="2733.3" r="7.0" fill="#6fd3a6" fill-opacity="0.35"/><circle cx="335.5" cy="2733.3" r="7.0" fill="#6fd3a6" fill-opacity="0.35"/><circle cx="358.2" cy="2733.3" r="7.0" fill="#6fd3a6" fill-opacity="0.35"/><circle cx="381.0" cy="2733.3" r="7.0" fill="#6fd3a6" fill-opacity="0.35"/><circle cx="403.8" cy="2733.3" r="6.9" fill="#6fd3a6" fill-opacity="0.35"/><circle cx="426.5" cy="2733.3" r="6.6" fill="#6fd3a6" fill-opacity="0.35"/><circle cx="449.2" cy="2733.3" r="6.2" fill="#6fd3a6" fill-opacity="0.35"/><circle cx="472.0" cy="2733.3" r="5.8" fill="#6fd3a6" fill-opacity="0.35"/><circle cx="494.8" cy="2733.3" r="5.4" fill="#6fd3a6" fill-opacity="0.35"/><circle cx="517.5" cy="2733.3" r="5.0" fill="#6fd3a6" fill-opacity="0.35"/><circle cx="540.2" cy="2733.3" r="4.7" fill="#6fd3a6" fill-opacity="0.35"/><circle cx="563.0" cy="2733.3" r="4.3" fill="#6fd3a6" fill-opacity="0.35"/><circle cx="585.8" cy="2733.3" r="3.9" fill="#6fd3a6" fill-opacity="0.35"/><circle cx="608.5" cy="2733.3" r="3.5" fill="#6fd3a6" fill-opacity="0.35"/><circle cx="631.2" cy="2733.3" r="3.1" fill="#6fd3a6" fill-opacity="0.35"/><circle cx="654.0" cy="2733.3" r="2.8" fill="#6fd3a6" fill-opacity="0.35"/><circle cx="676.8" cy="2733.3" r="2.4" fill="#6fd3a6" fill-opacity="0.35"/></svg>
<!-- card icons -->
<svg class="a" style="left:80px;top:2165px" width="90" height="67" viewBox="0 0 90 67" fill="none" stroke="#fff" stroke-width="3.1" stroke-linecap="round" stroke-linejoin="round">
  <path d="M22.6 7.3 L33.3 14.5 M29.4 12.8 L15.4 36.7 M5.1 32 L17.5 41.8"/>
  <path d="M71.7 6.8 L61.4 10.7 M62.7 10.2 L72.5 37.5 M84.5 35 L70.8 40.1"/>
  <path d="M33.7 16.6 L62.3 11.1"/>
  <path d="M33.7 16.6 C 30.5 18.5, 31 22.2, 34.5 22.2 L47.8 22.2 L55.5 29 L65.7 35.8"/>
  <path d="M17.5 41.8 C 20 46, 22 48, 24 50 M46 60 C 51 58.5, 56 55, 70.8 40.1"/>
  <rect x="20.6" y="35.6" width="6.6" height="13" rx="3.3" transform="rotate(40 23.9 42.1)"/>
  <rect x="27.6" y="37.8" width="6.6" height="14" rx="3.3" transform="rotate(40 30.9 44.8)"/>
  <rect x="31.8" y="43.1" width="6.6" height="14" rx="3.3" transform="rotate(40 35.1 50.1)"/>
  <rect x="36.9" y="49.9" width="6.2" height="11" rx="3.1" transform="rotate(40 40 55.4)"/>
  <path d="M48 34 L64 46.5 M45.2 40.2 L61.5 52 M43.5 46 L55.5 55.5"/>
</svg>
<svg class="a" style="left:80px;top:2368px" width="82" height="70" viewBox="0 0 82 70" fill="none" stroke="#fff" stroke-width="2.8" stroke-linecap="round" stroke-linejoin="miter">
  <path d="M3.5 64.7 H77.1"/>
  <path d="M11.1 64.7 V32.8 H24 V64.7 M33.1 64.7 V36.6 H46 V64.7 M54.3 64.7 V21.4 H67.2 V64.7" stroke-linecap="butt"/>
  <path d="M11.1 22.2 H28.5 L35.4 28.3 L56.6 7 M49 6.3 H57.3 V14.6"/>
</svg>
<svg class="a" style="left:85px;top:2596px" width="80" height="80" viewBox="0 0 80 80" fill="none" stroke="#fff" stroke-width="2.6" stroke-linecap="round" stroke-linejoin="round">
  <circle cx="45.5" cy="24" r="7.8"/>
  <path d="M45.5 4.5 V9.5 M45.5 38.5 V43.5 M26 24 H31 M60 24 H65 M31.7 10.2 L35 13.5 M56 34.5 L59.3 37.8 M59.3 10.2 L56 13.5 M35 34.5 L31.7 37.8"/>
  <g transform="translate(-5.2 3.5)">
  <path d="M7.7 46.9 L13.7 43.1 L25.6 68.3 L20.5 71.7 Z"/>
  <path d="M14.9 43.9 C 21 41, 28 40, 32.4 41 C 36 42, 38 44, 40.1 44.4 L55.5 46.5 C 59 47.5, 59.5 52, 56 54.5 C 54 55.6, 52 55.6, 50 55.6 L38.4 56.3"/>
  <path d="M24.7 65.7 C 30 67.5, 40 67, 46.9 64.8 L59.7 59.7 L76.8 52 C 79.5 50.5, 79 47.5, 75.5 47.4 L59.7 51.2"/>
  </g>
</svg>

<!-- card text -->
<div class="a ct" style="top:2172.5px;">The rising importance of blended finance</div>
<div class="a cb" style="top:2202.4px;">
  <div class="bl">Blended and innovative finance, combining private capital with public funding, may present a US$2 trillion opportunity for<br>Asia to maximise efforts to achieve SDGs.</div>
  <div class="bl">In Hong Kong, a fund that used philanthropic capital to <b>provide zero-interest liquidity to social enterprises</b> was launched<br>by a coalition of ecosystem actors during the COVID-19 pandemic.</div>
  <div class="bl">This fund exemplifies how Hong Kong’s existing legal framework can already support catalytic innovation.</div>
</div>
<div class="a ct" style="top:2373.7px;">Bridging the funding gap to nurture growth-stage impact</div>
<div class="a cb" style="top:2403.8px;">
  <div class="bl">The public and private sectors in Hong Kong have significantly supported social purpose organisations (SPOs) during their<br>seed stage through various financial programmes.</div>
  <div class="bl">While investments in climate-related projects are on the rise, many <b>social projects</b> still struggle to obtain adequate funding<br>for expansion.</div>
  <div class="bl">A tax-exempt charity employs a bespoke matchmaking model to link private wealth owners’ capital with SPOs that have<br>established revenue models and are poised for scaled impact.</div>
</div>
<div class="a ct" style="top:2600.3px;">Investment opportunities focused on climate adaptation</div>
<div class="a cb" style="top:2630.4px;">
  <div class="bl">There is a growing interest among investors in supporting climate change mitigation and adaptation initiatives.</div>
  <div class="bl">This initiative can serve as a scalable model that highlights the potential solution of climate adaptation, pooling both<br>impact resources from corporate and insurance companies, as both a risk mitigation strategy and a catalyst for<br>measurable, long-term value creation across sectors.</div>
</div>

<!-- ===== QR / FOOTER ===== -->
<div class="a nw" style="right:267px;top:2865.6px;font-size:25.1px;line-height:30px;color:#404040;text-align:right;">Scan the QR code for the full report of</div>
<div class="a b nw" style="right:270.5px;top:2901.4px;font-size:24.9px;line-height:30px;color:#1a1a1a;text-align:right;">Hong Kong: Showcasing how Impact Capital Makes a Difference</div>
<div class="a" style="left:1002px;top:2787px;width:167px;height:168px;border-top:1px solid #4a5a8a;border-right:1px solid #4a5a8a;"></div>
<svg class="a" style="left:1009.8px;top:2796.2px" width="151.3" height="152.2" viewBox="0 0 41 41" shape-rendering="crispEdges"><path fill="#111" d="M0 0h7v1h-7zM8 0h5v1h-5zM14 0h2v1h-2zM19 0h1v1h-1zM21 0h1v1h-1zM23 0h4v1h-4zM28 0h1v1h-1zM31 0h1v1h-1zM34 0h7v1h-7zM0 1h1v1h-1zM6 1h1v1h-1zM8 1h1v1h-1zM10 1h2v1h-2zM13 1h3v1h-3zM20 1h1v1h-1zM24 1h1v1h-1zM27 1h1v1h-1zM29 1h1v1h-1zM34 1h1v1h-1zM40 1h1v1h-1zM0 2h1v1h-1zM2 2h3v1h-3zM6 2h1v1h-1zM12 2h3v1h-3zM17 2h5v1h-5zM23 2h4v1h-4zM34 2h1v1h-1zM36 2h3v1h-3zM40 2h1v1h-1zM0 3h1v1h-1zM2 3h3v1h-3zM6 3h1v1h-1zM8 3h4v1h-4zM14 3h5v1h-5zM21 3h6v1h-6zM28 3h2v1h-2zM32 3h1v1h-1zM34 3h1v1h-1zM36 3h3v1h-3zM40 3h1v1h-1zM0 4h1v1h-1zM2 4h3v1h-3zM6 4h1v1h-1zM12 4h1v1h-1zM14 4h5v1h-5zM21 4h1v1h-1zM25 4h5v1h-5zM34 4h1v1h-1zM36 4h3v1h-3zM40 4h1v1h-1zM0 5h1v1h-1zM6 5h1v1h-1zM10 5h3v1h-3zM15 5h1v1h-1zM19 5h1v1h-1zM21 5h2v1h-2zM27 5h1v1h-1zM30 5h3v1h-3zM34 5h1v1h-1zM40 5h1v1h-1zM0 6h7v1h-7zM8 6h1v1h-1zM10 6h1v1h-1zM12 6h1v1h-1zM14 6h1v1h-1zM16 6h1v1h-1zM18 6h1v1h-1zM20 6h1v1h-1zM22 6h1v1h-1zM24 6h1v1h-1zM26 6h1v1h-1zM28 6h1v1h-1zM30 6h1v1h-1zM32 6h1v1h-1zM34 6h7v1h-7zM8 7h2v1h-2zM13 7h1v1h-1zM16 7h1v1h-1zM19 7h1v1h-1zM21 7h2v1h-2zM25 7h2v1h-2zM28 7h3v1h-3zM32 7h1v1h-1zM2 8h3v1h-3zM6 8h3v1h-3zM11 8h2v1h-2zM16 8h2v1h-2zM19 8h2v1h-2zM24 8h1v1h-1zM26 8h1v1h-1zM28 8h2v1h-2zM32 8h2v1h-2zM35 8h6v1h-6zM0 9h1v1h-1zM2 9h1v1h-1zM4 9h2v1h-2zM7 9h2v1h-2zM11 9h2v1h-2zM14 9h1v1h-1zM16 9h2v1h-2zM19 9h1v1h-1zM23 9h1v1h-1zM27 9h5v1h-5zM33 9h3v1h-3zM39 9h2v1h-2zM0 10h5v1h-5zM6 10h1v1h-1zM8 10h1v1h-1zM10 10h5v1h-5zM16 10h1v1h-1zM18 10h8v1h-8zM32 10h2v1h-2zM35 10h1v1h-1zM38 10h1v1h-1zM3 11h1v1h-1zM13 11h5v1h-5zM23 11h2v1h-2zM30 11h1v1h-1zM32 11h3v1h-3zM36 11h1v1h-1zM39 11h2v1h-2zM0 12h1v1h-1zM5 12h3v1h-3zM9 12h1v1h-1zM11 12h3v1h-3zM17 12h1v1h-1zM19 12h3v1h-3zM23 12h1v1h-1zM26 12h2v1h-2zM30 12h3v1h-3zM34 12h1v1h-1zM36 12h1v1h-1zM39 12h1v1h-1zM3 13h1v1h-1zM5 13h1v1h-1zM7 13h7v1h-7zM15 13h1v1h-1zM18 13h1v1h-1zM22 13h3v1h-3zM27 13h5v1h-5zM33 13h1v1h-1zM35 13h2v1h-2zM38 13h2v1h-2zM6 14h2v1h-2zM9 14h1v1h-1zM12 14h2v1h-2zM15 14h4v1h-4zM21 14h1v1h-1zM23 14h1v1h-1zM25 14h4v1h-4zM30 14h2v1h-2zM34 14h7v1h-7zM0 15h1v1h-1zM4 15h2v1h-2zM7 15h4v1h-4zM12 15h1v1h-1zM16 15h5v1h-5zM24 15h2v1h-2zM28 15h1v1h-1zM30 15h2v1h-2zM36 15h3v1h-3zM4 16h1v1h-1zM6 16h1v1h-1zM8 16h1v1h-1zM11 16h3v1h-3zM16 16h2v1h-2zM20 16h2v1h-2zM23 16h3v1h-3zM29 16h3v1h-3zM34 16h3v1h-3zM38 16h2v1h-2zM1 17h4v1h-4zM10 17h1v1h-1zM12 17h1v1h-1zM14 17h2v1h-2zM17 17h1v1h-1zM19 17h4v1h-4zM25 17h3v1h-3zM29 17h4v1h-4zM38 17h2v1h-2zM1 18h1v1h-1zM3 18h7v1h-7zM11 18h1v1h-1zM13 18h2v1h-2zM17 18h4v1h-4zM22 18h2v1h-2zM25 18h2v1h-2zM29 18h3v1h-3zM33 18h1v1h-1zM36 18h2v1h-2zM40 18h1v1h-1zM1 19h3v1h-3zM8 19h3v1h-3zM13 19h4v1h-4zM18 19h1v1h-1zM24 19h3v1h-3zM28 19h2v1h-2zM31 19h3v1h-3zM35 19h1v1h-1zM39 19h2v1h-2zM0 20h2v1h-2zM3 20h4v1h-4zM11 20h1v1h-1zM13 20h1v1h-1zM15 20h1v1h-1zM17 20h4v1h-4zM23 20h2v1h-2zM27 20h1v1h-1zM31 20h2v1h-2zM36 20h4v1h-4zM2 21h1v1h-1zM4 21h2v1h-2zM8 21h1v1h-1zM11 21h5v1h-5zM18 21h3v1h-3zM22 21h3v1h-3zM27 21h3v1h-3zM32 21h2v1h-2zM35 21h3v1h-3zM39 21h1v1h-1zM0 22h2v1h-2zM4 22h5v1h-5zM10 22h1v1h-1zM12 22h1v1h-1zM14 22h3v1h-3zM20 22h1v1h-1zM22 22h1v1h-1zM24 22h2v1h-2zM28 22h2v1h-2zM32 22h2v1h-2zM36 22h2v1h-2zM39 22h1v1h-1zM2 23h1v1h-1zM4 23h2v1h-2zM8 23h3v1h-3zM12 23h3v1h-3zM17 23h1v1h-1zM20 23h1v1h-1zM22 23h1v1h-1zM26 23h2v1h-2zM29 23h1v1h-1zM31 23h3v1h-3zM35 23h2v1h-2zM39 23h2v1h-2zM0 24h8v1h-8zM9 24h1v1h-1zM13 24h1v1h-1zM15 24h1v1h-1zM17 24h1v1h-1zM22 24h1v1h-1zM24 24h1v1h-1zM27 24h1v1h-1zM30 24h2v1h-2zM33 24h1v1h-1zM35 24h1v1h-1zM37 24h1v1h-1zM40 24h1v1h-1zM0 25h1v1h-1zM2 25h4v1h-4zM9 25h1v1h-1zM11 25h1v1h-1zM14 25h1v1h-1zM19 25h1v1h-1zM22 25h1v1h-1zM24 25h1v1h-1zM27 25h1v1h-1zM29 25h2v1h-2zM32 25h1v1h-1zM34 25h1v1h-1zM39 25h2v1h-2zM0 26h2v1h-2zM3 26h1v1h-1zM6 26h2v1h-2zM9 26h6v1h-6zM17 26h1v1h-1zM19 26h2v1h-2zM22 26h3v1h-3zM28 26h3v1h-3zM33 26h1v1h-1zM35 26h1v1h-1zM38 26h1v1h-1zM40 26h1v1h-1zM1 27h3v1h-3zM5 27h1v1h-1zM8 27h2v1h-2zM14 27h4v1h-4zM21 27h1v1h-1zM24 27h1v1h-1zM26 27h6v1h-6zM36 27h1v1h-1zM38 27h1v1h-1zM0 28h1v1h-1zM3 28h1v1h-1zM5 28h3v1h-3zM11 28h1v1h-1zM13 28h2v1h-2zM20 28h1v1h-1zM24 28h1v1h-1zM27 28h2v1h-2zM30 28h1v1h-1zM32 28h3v1h-3zM36 28h4v1h-4zM3 29h1v1h-1zM5 29h1v1h-1zM9 29h1v1h-1zM13 29h4v1h-4zM22 29h3v1h-3zM26 29h6v1h-6zM33 29h2v1h-2zM39 29h2v1h-2zM0 30h1v1h-1zM2 30h1v1h-1zM5 30h3v1h-3zM9 30h3v1h-3zM14 30h3v1h-3zM18 30h3v1h-3zM22 30h1v1h-1zM24 30h2v1h-2zM27 30h2v1h-2zM30 30h1v1h-1zM35 30h3v1h-3zM39 30h1v1h-1zM0 31h3v1h-3zM5 31h1v1h-1zM7 31h2v1h-2zM13 31h3v1h-3zM19 31h2v1h-2zM23 31h2v1h-2zM26 31h3v1h-3zM31 31h4v1h-4zM36 31h3v1h-3zM0 32h1v1h-1zM2 32h2v1h-2zM6 32h3v1h-3zM10 32h5v1h-5zM19 32h2v1h-2zM22 32h1v1h-1zM25 32h1v1h-1zM28 32h2v1h-2zM32 32h7v1h-7zM40 32h1v1h-1zM8 33h1v1h-1zM11 33h1v1h-1zM14 33h2v1h-2zM17 33h1v1h-1zM19 33h1v1h-1zM23 33h1v1h-1zM31 33h2v1h-2zM36 33h2v1h-2zM39 33h2v1h-2zM0 34h7v1h-7zM8 34h1v1h-1zM12 34h1v1h-1zM14 34h3v1h-3zM20 34h1v1h-1zM22 34h1v1h-1zM24 34h1v1h-1zM28 34h2v1h-2zM31 34h2v1h-2zM34 34h1v1h-1zM36 34h5v1h-5zM0 35h1v1h-1zM6 35h1v1h-1zM8 35h1v1h-1zM11 35h1v1h-1zM15 35h1v1h-1zM18 35h2v1h-2zM22 35h4v1h-4zM27 35h2v1h-2zM31 35h2v1h-2zM36 35h1v1h-1zM39 35h1v1h-1zM0 36h1v1h-1zM2 36h3v1h-3zM6 36h1v1h-1zM8 36h6v1h-6zM16 36h1v1h-1zM18 36h1v1h-1zM22 36h2v1h-2zM25 36h1v1h-1zM28 36h1v1h-1zM32 36h6v1h-6zM40 36h1v1h-1zM0 37h1v1h-1zM2 37h3v1h-3zM6 37h1v1h-1zM10 37h1v1h-1zM12 37h1v1h-1zM14 37h1v1h-1zM19 37h3v1h-3zM25 37h1v1h-1zM29 37h4v1h-4zM0 38h1v1h-1zM2 38h3v1h-3zM6 38h1v1h-1zM8 38h2v1h-2zM13 38h1v1h-1zM17 38h5v1h-5zM24 38h1v1h-1zM26 38h2v1h-2zM31 38h3v1h-3zM37 38h3v1h-3zM0 39h1v1h-1zM6 39h1v1h-1zM9 39h2v1h-2zM12 39h1v1h-1zM14 39h2v1h-2zM20 39h1v1h-1zM23 39h1v1h-1zM25 39h1v1h-1zM28 39h2v1h-2zM32 39h2v1h-2zM35 39h1v1h-1zM37 39h3v1h-3zM0 40h7v1h-7zM8 40h1v1h-1zM13 40h2v1h-2zM18 40h1v1h-1zM23 40h2v1h-2zM26 40h1v1h-1zM31 40h4v1h-4zM38 40h1v1h-1z"/></svg>

<!-- SECTION6 -->

</body>
</html>
